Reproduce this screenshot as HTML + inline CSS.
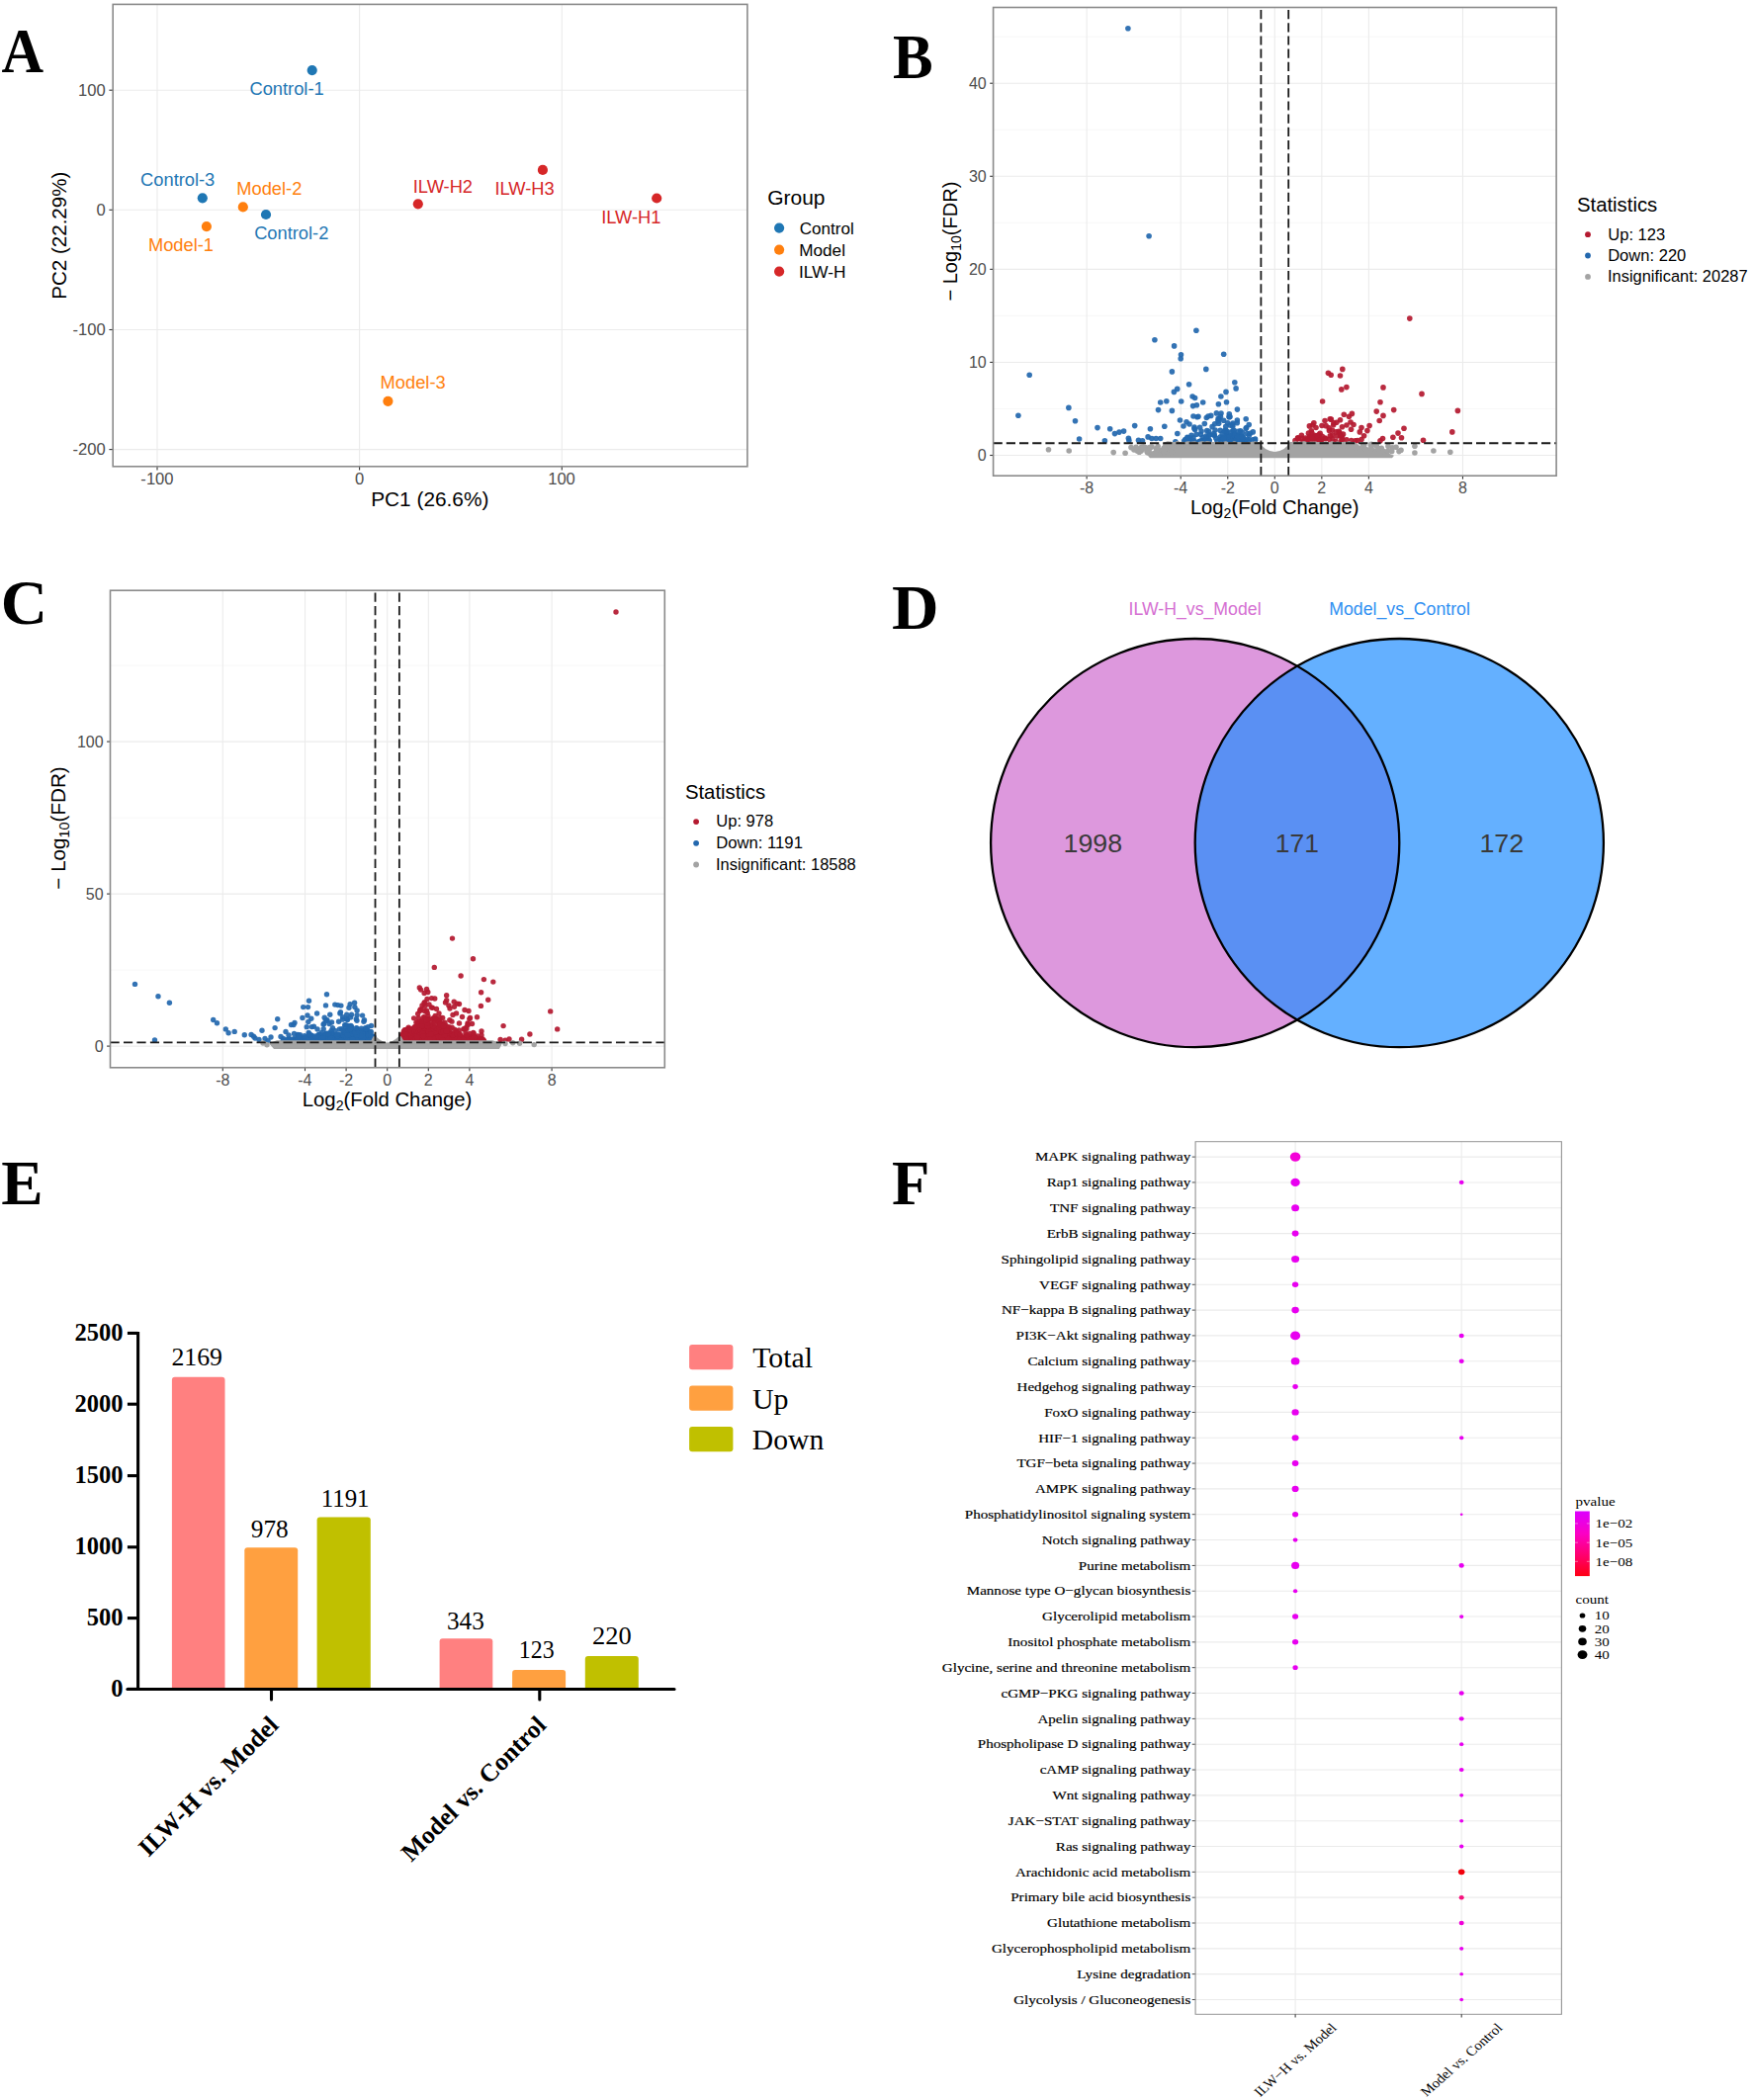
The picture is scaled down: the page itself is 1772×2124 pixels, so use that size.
<!DOCTYPE html>
<html lang="en"><head><meta charset="utf-8"><title>Figure</title>
<style>html,body{margin:0;padding:0;background:#fff}svg{display:block}text{white-space:pre}</style>
</head><body>
<svg width="1772" height="2124" viewBox="0 0 1772 2124">
<defs><linearGradient id="pvg" x1="0" y1="0" x2="0" y2="1"><stop offset="0" stop-color="#dc00ff"/><stop offset="0.35" stop-color="#fb00c4"/><stop offset="0.7" stop-color="#ff0068"/><stop offset="1" stop-color="#ff0014"/></linearGradient></defs>
<rect x="0" y="0" width="1772" height="2124" fill="#ffffff"/>
<g id="panelA">
<rect x="114.2" y="4.4" width="641.7" height="467.4" fill="#fff" stroke="none" stroke-width="1"/>
<line x1="159" y1="4.4" x2="159" y2="471.8" stroke="#ebebeb" stroke-width="1.1"/>
<line x1="363.6" y1="4.4" x2="363.6" y2="471.8" stroke="#ebebeb" stroke-width="1.1"/>
<line x1="568.3" y1="4.4" x2="568.3" y2="471.8" stroke="#ebebeb" stroke-width="1.1"/>
<line x1="114.2" y1="91.2" x2="755.9" y2="91.2" stroke="#ebebeb" stroke-width="1.1"/>
<line x1="114.2" y1="212.3" x2="755.9" y2="212.3" stroke="#ebebeb" stroke-width="1.1"/>
<line x1="114.2" y1="333.5" x2="755.9" y2="333.5" stroke="#ebebeb" stroke-width="1.1"/>
<line x1="114.2" y1="454.6" x2="755.9" y2="454.6" stroke="#ebebeb" stroke-width="1.1"/>
<line x1="159" y1="471.8" x2="159" y2="475.6" stroke="#333" stroke-width="1.1"/>
<text transform="translate(142.36 490.2) scale(1.0000 1)" font-family='"Liberation Sans", Arial, sans-serif' font-size="16.6" fill="#4d4d4d">-100</text>
<line x1="363.6" y1="471.8" x2="363.6" y2="475.6" stroke="#333" stroke-width="1.1"/>
<text transform="translate(358.99 490.2) scale(1.0000 1)" font-family='"Liberation Sans", Arial, sans-serif' font-size="16.6" fill="#4d4d4d">0</text>
<line x1="568.3" y1="471.8" x2="568.3" y2="475.6" stroke="#333" stroke-width="1.1"/>
<text transform="translate(554.15 490.2) scale(1.0000 1)" font-family='"Liberation Sans", Arial, sans-serif' font-size="16.6" fill="#4d4d4d">100</text>
<line x1="110.4" y1="91.2" x2="114.2" y2="91.2" stroke="#333" stroke-width="1.1"/>
<text transform="translate(79.04 97) scale(1.0000 1)" font-family='"Liberation Sans", Arial, sans-serif' font-size="16.6" fill="#4d4d4d">100</text>
<line x1="110.4" y1="212.3" x2="114.2" y2="212.3" stroke="#333" stroke-width="1.1"/>
<text transform="translate(97.47 218.1) scale(1.0000 1)" font-family='"Liberation Sans", Arial, sans-serif' font-size="16.6" fill="#4d4d4d">0</text>
<line x1="110.4" y1="333.5" x2="114.2" y2="333.5" stroke="#333" stroke-width="1.1"/>
<text transform="translate(73.48 339.3) scale(1.0000 1)" font-family='"Liberation Sans", Arial, sans-serif' font-size="16.6" fill="#4d4d4d">-100</text>
<line x1="110.4" y1="454.6" x2="114.2" y2="454.6" stroke="#333" stroke-width="1.1"/>
<text transform="translate(73.48 460.4) scale(1.0000 1)" font-family='"Liberation Sans", Arial, sans-serif' font-size="16.6" fill="#4d4d4d">-200</text>
<rect x="114.2" y="4.4" width="641.7" height="467.4" fill="none" stroke="#8a8a8a" stroke-width="1.6"/>
<text transform="translate(375.13 511.8) scale(1.0068 1)" font-family='"Liberation Sans", Arial, sans-serif' font-size="20.7" fill="#000">PC1 (26.6%)</text>
<text transform="translate(67.1 302.64) rotate(-90) scale(0.9913 1)" font-family='"Liberation Sans", Arial, sans-serif' font-size="20.7" fill="#000">PC2 (22.29%)</text>
<circle cx="315.7" cy="71.1" r="5.1" fill="#1f77b4"/>
<circle cx="204.8" cy="200.3" r="5.1" fill="#1f77b4"/>
<circle cx="245.8" cy="209.4" r="5.1" fill="#ff7f0e"/>
<circle cx="269" cy="217" r="5.1" fill="#1f77b4"/>
<circle cx="208.9" cy="229.1" r="5.1" fill="#ff7f0e"/>
<circle cx="422.8" cy="206.3" r="5.1" fill="#d62728"/>
<circle cx="548.9" cy="171.9" r="5.1" fill="#d62728"/>
<circle cx="664.2" cy="200.5" r="5.1" fill="#d62728"/>
<circle cx="392.4" cy="405.8" r="5.1" fill="#ff7f0e"/>
<text transform="translate(252.45 95.9) scale(1.0000 1)" font-family='"Liberation Sans", Arial, sans-serif' font-size="18.3" fill="#1f77b4">Control-1</text>
<text transform="translate(142.1 188.1) scale(1.0000 1)" font-family='"Liberation Sans", Arial, sans-serif' font-size="18.3" fill="#1f77b4">Control-3</text>
<text transform="translate(239.25 197.2) scale(1.0000 1)" font-family='"Liberation Sans", Arial, sans-serif' font-size="18.3" fill="#ff7f0e">Model-2</text>
<text transform="translate(257.15 241.7) scale(1.0000 1)" font-family='"Liberation Sans", Arial, sans-serif' font-size="18.3" fill="#1f77b4">Control-2</text>
<text transform="translate(149.95 254.4) scale(1.0000 1)" font-family='"Liberation Sans", Arial, sans-serif' font-size="18.3" fill="#ff7f0e">Model-1</text>
<text transform="translate(417.74 194.7) scale(1.0000 1)" font-family='"Liberation Sans", Arial, sans-serif' font-size="18.3" fill="#d62728">ILW-H2</text>
<text transform="translate(500.39 197.2) scale(1.0000 1)" font-family='"Liberation Sans", Arial, sans-serif' font-size="18.3" fill="#d62728">ILW-H3</text>
<text transform="translate(608.14 225.5) scale(1.0000 1)" font-family='"Liberation Sans", Arial, sans-serif' font-size="18.3" fill="#d62728">ILW-H1</text>
<text transform="translate(384.6 393.4) scale(1.0000 1)" font-family='"Liberation Sans", Arial, sans-serif' font-size="18.3" fill="#ff7f0e">Model-3</text>
<text transform="translate(776.25 206.8) scale(1.0080 1)" font-family='"Liberation Sans", Arial, sans-serif' font-size="20.8" fill="#000">Group</text>
<circle cx="788.1" cy="230.6" r="5.1" fill="#1f77b4"/>
<text transform="translate(808.75 236.5) scale(1.0044 1)" font-family='"Liberation Sans", Arial, sans-serif' font-size="17" fill="#000">Control</text>
<circle cx="788.1" cy="252.6" r="5.1" fill="#ff7f0e"/>
<text transform="translate(808.23 258.5) scale(1.0100 1)" font-family='"Liberation Sans", Arial, sans-serif' font-size="17" fill="#000">Model</text>
<circle cx="788.1" cy="274.6" r="5.1" fill="#d62728"/>
<text transform="translate(808.04 280.5) scale(1.0166 1)" font-family='"Liberation Sans", Arial, sans-serif' font-size="17" fill="#000">ILW-H</text>
<text transform="translate(1.6 73.3) scale(0.9367 1)" font-family='"Liberation Serif", "Times New Roman", serif' font-size="63" font-weight="bold" fill="#000">A</text>
</g>
<g id="panelB">
<rect x="1004.6" y="7.5" width="569.5" height="473.7" fill="#fff" stroke="none" stroke-width="1"/>
<line x1="1004.6" y1="413.47" x2="1574.1" y2="413.47" stroke="#f2f2f2" stroke-width="0.6"/>
<line x1="1004.6" y1="319.39" x2="1574.1" y2="319.39" stroke="#f2f2f2" stroke-width="0.6"/>
<line x1="1004.6" y1="225.32" x2="1574.1" y2="225.32" stroke="#f2f2f2" stroke-width="0.6"/>
<line x1="1004.6" y1="131.25" x2="1574.1" y2="131.25" stroke="#f2f2f2" stroke-width="0.6"/>
<line x1="1004.6" y1="37.19" x2="1574.1" y2="37.19" stroke="#f2f2f2" stroke-width="0.6"/>
<line x1="1099.14" y1="7.5" x2="1099.14" y2="481.2" stroke="#ebebeb" stroke-width="1.1"/>
<line x1="1194.22" y1="7.5" x2="1194.22" y2="481.2" stroke="#ebebeb" stroke-width="1.1"/>
<line x1="1241.76" y1="7.5" x2="1241.76" y2="481.2" stroke="#ebebeb" stroke-width="1.1"/>
<line x1="1289.3" y1="7.5" x2="1289.3" y2="481.2" stroke="#ebebeb" stroke-width="1.1"/>
<line x1="1336.84" y1="7.5" x2="1336.84" y2="481.2" stroke="#ebebeb" stroke-width="1.1"/>
<line x1="1384.38" y1="7.5" x2="1384.38" y2="481.2" stroke="#ebebeb" stroke-width="1.1"/>
<line x1="1479.46" y1="7.5" x2="1479.46" y2="481.2" stroke="#ebebeb" stroke-width="1.1"/>
<line x1="1004.6" y1="460.5" x2="1574.1" y2="460.5" stroke="#ebebeb" stroke-width="1.1"/>
<line x1="1004.6" y1="366.43" x2="1574.1" y2="366.43" stroke="#ebebeb" stroke-width="1.1"/>
<line x1="1004.6" y1="272.36" x2="1574.1" y2="272.36" stroke="#ebebeb" stroke-width="1.1"/>
<line x1="1004.6" y1="178.29" x2="1574.1" y2="178.29" stroke="#ebebeb" stroke-width="1.1"/>
<line x1="1004.6" y1="84.22" x2="1574.1" y2="84.22" stroke="#ebebeb" stroke-width="1.1"/>
<g fill="#2368ae" fill-opacity="0.93"><circle cx="1041.2" cy="379.2" r="2.8"/><circle cx="1029.9" cy="420.2" r="2.8"/><circle cx="1080.9" cy="412.4" r="2.8"/><circle cx="1087.5" cy="425.8" r="2.8"/><circle cx="1091.6" cy="444" r="2.8"/><circle cx="1110" cy="432.6" r="2.8"/><circle cx="1122.7" cy="433.8" r="2.8"/><circle cx="1127.5" cy="438.6" r="2.8"/><circle cx="1132" cy="437.1" r="2.8"/><circle cx="1136.6" cy="436.1" r="2.8"/><circle cx="1117.4" cy="445.7" r="2.8"/><circle cx="1141.4" cy="443.2" r="2.8"/><circle cx="1141.9" cy="445.5" r="2.8"/><circle cx="1147.7" cy="430.6" r="2.8"/><circle cx="1151.5" cy="445.2" r="2.8"/><circle cx="1155.5" cy="445.7" r="2.8"/><circle cx="1161.1" cy="441.9" r="2.8"/><circle cx="1163.4" cy="433.8" r="2.8"/><circle cx="1164.9" cy="443.5" r="2.8"/><circle cx="1169.2" cy="443.5" r="2.8"/><circle cx="1173.7" cy="443.5" r="2.8"/><circle cx="1177.8" cy="431.3" r="2.8"/><circle cx="1167.9" cy="343.8" r="2.8"/><circle cx="1187.6" cy="349.9" r="2.8"/><circle cx="1209.9" cy="334.2" r="2.8"/><circle cx="1194.5" cy="358.7" r="2.8"/><circle cx="1194.2" cy="362.8" r="2.8"/><circle cx="1237.7" cy="358.2" r="2.8"/><circle cx="1185.4" cy="375.9" r="2.8"/><circle cx="1219.8" cy="373.4" r="2.8"/><circle cx="1202.6" cy="388.8" r="2.8"/><circle cx="1190.7" cy="393.4" r="2.8"/><circle cx="1187.4" cy="396.4" r="2.8"/><circle cx="1248.8" cy="386.8" r="2.8"/><circle cx="1250.1" cy="392.9" r="2.8"/><circle cx="1240" cy="396.4" r="2.8"/><circle cx="1234.9" cy="401" r="2.8"/><circle cx="1206.1" cy="401" r="2.8"/><circle cx="1208.6" cy="402.5" r="2.8"/><circle cx="1173.7" cy="407" r="2.8"/><circle cx="1179.8" cy="405.8" r="2.8"/><circle cx="1194.7" cy="406" r="2.8"/><circle cx="1216.7" cy="407" r="2.8"/><circle cx="1240.5" cy="406.8" r="2.8"/><circle cx="1232.4" cy="408.8" r="2.8"/><circle cx="1206.6" cy="410.6" r="2.8"/><circle cx="1210.4" cy="409.8" r="2.8"/><circle cx="1171.5" cy="414.6" r="2.8"/><circle cx="1185.4" cy="415.4" r="2.8"/><circle cx="1251.4" cy="414.1" r="2.8"/><circle cx="1230.4" cy="417.9" r="2.8"/><circle cx="1234.4" cy="421.2" r="2.8"/><circle cx="1224.8" cy="420.4" r="2.8"/><circle cx="1220.3" cy="422.5" r="2.8"/><circle cx="1210.9" cy="421.7" r="2.8"/><circle cx="1193.5" cy="425" r="2.8"/><circle cx="1200" cy="426.8" r="2.8"/><circle cx="1260.2" cy="423.7" r="2.8"/><circle cx="1269.6" cy="444" r="2.8"/><circle cx="1140.9" cy="28.8" r="2.8"/><circle cx="1162.1" cy="238.7" r="2.8"/><circle cx="1207" cy="421" r="2.8"/><circle cx="1212" cy="421.3" r="2.8"/><circle cx="1222" cy="421" r="2.8"/><circle cx="1244" cy="421.5" r="2.8"/><circle cx="1233" cy="423.5" r="2.8"/><circle cx="1247" cy="428" r="2.8"/><circle cx="1203" cy="429" r="2.8"/><circle cx="1208" cy="432" r="2.8"/><circle cx="1197" cy="431" r="2.8"/><circle cx="1245.88" cy="440.26" r="2.8"/><circle cx="1239.52" cy="434.96" r="2.8"/><circle cx="1242.38" cy="442.29" r="2.8"/><circle cx="1239.65" cy="444.83" r="2.8"/><circle cx="1243.29" cy="418.81" r="2.8"/><circle cx="1234.18" cy="444.59" r="2.8"/><circle cx="1243.29" cy="421.79" r="2.8"/><circle cx="1234.18" cy="435.32" r="2.8"/><circle cx="1256.16" cy="445.56" r="2.8"/><circle cx="1266.94" cy="444.71" r="2.8"/><circle cx="1239.77" cy="431.38" r="2.8"/><circle cx="1216.39" cy="442.64" r="2.8"/><circle cx="1263.36" cy="440.24" r="2.8"/><circle cx="1249.85" cy="442.31" r="2.8"/><circle cx="1220.44" cy="442.52" r="2.8"/><circle cx="1250.94" cy="440.46" r="2.8"/><circle cx="1229.04" cy="434.96" r="2.8"/><circle cx="1246.98" cy="435.76" r="2.8"/><circle cx="1238.97" cy="444.52" r="2.8"/><circle cx="1238.11" cy="445.92" r="2.8"/><circle cx="1198.74" cy="444.49" r="2.8"/><circle cx="1238.22" cy="442.82" r="2.8"/><circle cx="1252.61" cy="442.05" r="2.8"/><circle cx="1246.75" cy="431.18" r="2.8"/><circle cx="1204.47" cy="447.24" r="2.8"/><circle cx="1219.25" cy="444.67" r="2.8"/><circle cx="1188.88" cy="446.84" r="2.8"/><circle cx="1238.62" cy="446.68" r="2.8"/><circle cx="1201.82" cy="442.71" r="2.8"/><circle cx="1246.68" cy="429.83" r="2.8"/><circle cx="1256.16" cy="440.97" r="2.8"/><circle cx="1267.26" cy="436.9" r="2.8"/><circle cx="1216.42" cy="445.44" r="2.8"/><circle cx="1257.09" cy="445.96" r="2.8"/><circle cx="1223.05" cy="440.27" r="2.8"/><circle cx="1251.35" cy="424.96" r="2.8"/><circle cx="1247.09" cy="441.54" r="2.8"/><circle cx="1214.44" cy="439.19" r="2.8"/><circle cx="1223.08" cy="439.91" r="2.8"/><circle cx="1210.79" cy="447.41" r="2.8"/><circle cx="1248.58" cy="446.82" r="2.8"/><circle cx="1229.83" cy="443.2" r="2.8"/><circle cx="1218.29" cy="445.14" r="2.8"/><circle cx="1232.68" cy="428.13" r="2.8"/><circle cx="1237.68" cy="425.23" r="2.8"/><circle cx="1213.62" cy="432.25" r="2.8"/><circle cx="1248.64" cy="447.16" r="2.8"/><circle cx="1243.85" cy="446.68" r="2.8"/><circle cx="1255.77" cy="441.27" r="2.8"/><circle cx="1263.74" cy="444.93" r="2.8"/><circle cx="1250.26" cy="443.27" r="2.8"/><circle cx="1222.61" cy="445.3" r="2.8"/><circle cx="1242.03" cy="440.97" r="2.8"/><circle cx="1252.07" cy="441.04" r="2.8"/><circle cx="1240.33" cy="437.55" r="2.8"/><circle cx="1216.38" cy="446.96" r="2.8"/><circle cx="1261.31" cy="438.52" r="2.8"/><circle cx="1214.37" cy="446.27" r="2.8"/><circle cx="1223.2" cy="445.49" r="2.8"/><circle cx="1201.84" cy="446" r="2.8"/><circle cx="1251.97" cy="441.73" r="2.8"/><circle cx="1231.09" cy="446.28" r="2.8"/><circle cx="1207.4" cy="445.78" r="2.8"/><circle cx="1220.66" cy="446.06" r="2.8"/><circle cx="1228.19" cy="440" r="2.8"/><circle cx="1197.71" cy="446.07" r="2.8"/><circle cx="1241.71" cy="427.87" r="2.8"/><circle cx="1200.86" cy="442.21" r="2.8"/><circle cx="1202.96" cy="444.19" r="2.8"/><circle cx="1251.82" cy="446.92" r="2.8"/><circle cx="1264.34" cy="438.3" r="2.8"/><circle cx="1218.32" cy="428.51" r="2.8"/><circle cx="1205.46" cy="447.16" r="2.8"/><circle cx="1251.24" cy="427.79" r="2.8"/><circle cx="1190.82" cy="438.45" r="2.8"/><circle cx="1259.39" cy="445.33" r="2.8"/><circle cx="1200.17" cy="444.89" r="2.8"/><circle cx="1246.43" cy="445.62" r="2.8"/><circle cx="1252.22" cy="446.14" r="2.8"/><circle cx="1235.02" cy="418" r="2.8"/><circle cx="1220.74" cy="435.67" r="2.8"/><circle cx="1253.24" cy="446.02" r="2.8"/><circle cx="1234.63" cy="446.87" r="2.8"/><circle cx="1235.46" cy="444.8" r="2.8"/><circle cx="1240.34" cy="446.93" r="2.8"/><circle cx="1236.18" cy="438.91" r="2.8"/><circle cx="1260.7" cy="432.59" r="2.8"/><circle cx="1247" cy="440.69" r="2.8"/><circle cx="1228.64" cy="428.79" r="2.8"/><circle cx="1215.1" cy="435.94" r="2.8"/><circle cx="1257.01" cy="442.2" r="2.8"/><circle cx="1239.74" cy="443.29" r="2.8"/><circle cx="1241.11" cy="439.37" r="2.8"/><circle cx="1245.92" cy="440.57" r="2.8"/><circle cx="1254.64" cy="435.76" r="2.8"/><circle cx="1263.2" cy="447.28" r="2.8"/><circle cx="1226.07" cy="431.67" r="2.8"/><circle cx="1246.82" cy="444.69" r="2.8"/><circle cx="1227.96" cy="440.36" r="2.8"/><circle cx="1222.51" cy="436.24" r="2.8"/><circle cx="1250.47" cy="444.64" r="2.8"/><circle cx="1247.78" cy="442.34" r="2.8"/><circle cx="1245.11" cy="441.01" r="2.8"/><circle cx="1263.23" cy="429.55" r="2.8"/><circle cx="1240.96" cy="436.39" r="2.8"/><circle cx="1210.06" cy="439.21" r="2.8"/><circle cx="1245" cy="437.15" r="2.8"/><circle cx="1205.04" cy="440.33" r="2.8"/><circle cx="1248.39" cy="439.7" r="2.8"/><circle cx="1244.12" cy="430.01" r="2.8"/><circle cx="1261.19" cy="444.34" r="2.8"/><circle cx="1232.08" cy="423.63" r="2.8"/><circle cx="1236.83" cy="444.66" r="2.8"/><circle cx="1252.7" cy="440.05" r="2.8"/><circle cx="1248.6" cy="446.34" r="2.8"/><circle cx="1256.84" cy="443.91" r="2.8"/><circle cx="1213.82" cy="446.37" r="2.8"/><circle cx="1241.34" cy="442.41" r="2.8"/><circle cx="1227.59" cy="438.67" r="2.8"/><circle cx="1260.11" cy="433.4" r="2.8"/><circle cx="1238.22" cy="435.99" r="2.8"/><circle cx="1239.04" cy="444.28" r="2.8"/><circle cx="1256.38" cy="437.57" r="2.8"/><circle cx="1248.16" cy="435.42" r="2.8"/><circle cx="1237.85" cy="442.42" r="2.8"/><circle cx="1234.13" cy="441.94" r="2.8"/><circle cx="1218.62" cy="446.77" r="2.8"/><circle cx="1205.81" cy="447.34" r="2.8"/><circle cx="1249.3" cy="439.21" r="2.8"/><circle cx="1251.49" cy="441.59" r="2.8"/><circle cx="1219.9" cy="441.1" r="2.8"/><circle cx="1261.69" cy="446.62" r="2.8"/><circle cx="1236.3" cy="442.92" r="2.8"/><circle cx="1257.23" cy="442.09" r="2.8"/><circle cx="1208.64" cy="434.57" r="2.8"/><circle cx="1237.06" cy="442.2" r="2.8"/><circle cx="1269.49" cy="445.33" r="2.8"/><circle cx="1231.94" cy="425.89" r="2.8"/><circle cx="1213.4" cy="446.56" r="2.8"/><circle cx="1206.98" cy="442.83" r="2.8"/><circle cx="1203.07" cy="442.77" r="2.8"/><circle cx="1250.62" cy="444.99" r="2.8"/><circle cx="1251.36" cy="443.16" r="2.8"/><circle cx="1252.37" cy="436.35" r="2.8"/><circle cx="1207.98" cy="433.6" r="2.8"/><circle cx="1243.2" cy="421.56" r="2.8"/><circle cx="1248.79" cy="446.16" r="2.8"/><circle cx="1237.38" cy="444.29" r="2.8"/><circle cx="1245.19" cy="446.33" r="2.8"/><circle cx="1256.03" cy="441.71" r="2.8"/></g>
<g fill="#b41a30" fill-opacity="0.93"><circle cx="1425.8" cy="322.1" r="2.8"/><circle cx="1357.8" cy="373.4" r="2.8"/><circle cx="1343.4" cy="377.2" r="2.8"/><circle cx="1346.2" cy="379.2" r="2.8"/><circle cx="1355.5" cy="380" r="2.8"/><circle cx="1361.9" cy="391.6" r="2.8"/><circle cx="1356.8" cy="393.9" r="2.8"/><circle cx="1399" cy="391.9" r="2.8"/><circle cx="1438" cy="398.4" r="2.8"/><circle cx="1337.6" cy="406" r="2.8"/><circle cx="1396" cy="406.8" r="2.8"/><circle cx="1409.7" cy="414.6" r="2.8"/><circle cx="1392.2" cy="416.1" r="2.8"/><circle cx="1399" cy="420.4" r="2.8"/><circle cx="1395.2" cy="425.5" r="2.8"/><circle cx="1474.4" cy="415.4" r="2.8"/><circle cx="1468.8" cy="436.9" r="2.8"/><circle cx="1420" cy="433.3" r="2.8"/><circle cx="1414" cy="438.1" r="2.8"/><circle cx="1408.9" cy="442.2" r="2.8"/><circle cx="1417.5" cy="442.7" r="2.8"/><circle cx="1439.5" cy="445.2" r="2.8"/><circle cx="1398.5" cy="443.5" r="2.8"/><circle cx="1396" cy="445.7" r="2.8"/><circle cx="1385.1" cy="430.6" r="2.8"/><circle cx="1382.9" cy="435.6" r="2.8"/><circle cx="1377" cy="432.6" r="2.8"/><circle cx="1375.3" cy="436.9" r="2.8"/><circle cx="1379.6" cy="440.7" r="2.8"/><circle cx="1377" cy="444.5" r="2.8"/><circle cx="1367.4" cy="418.4" r="2.8"/><circle cx="1359.3" cy="419.2" r="2.8"/><circle cx="1364.4" cy="421.2" r="2.8"/><circle cx="1345.2" cy="423.7" r="2.8"/><circle cx="1355.5" cy="424.7" r="2.8"/><circle cx="1351.8" cy="427.3" r="2.8"/><circle cx="1348.7" cy="429.8" r="2.8"/><circle cx="1337" cy="430.5" r="2.8"/><circle cx="1331" cy="432.5" r="2.8"/><circle cx="1362" cy="430" r="2.8"/><circle cx="1366" cy="427" r="2.8"/><circle cx="1369" cy="429.5" r="2.8"/><circle cx="1340" cy="425.5" r="2.8"/><circle cx="1327.5" cy="430" r="2.8"/><circle cx="1325.29" cy="445.38" r="2.8"/><circle cx="1330.27" cy="443.53" r="2.8"/><circle cx="1348.92" cy="427.87" r="2.8"/><circle cx="1323.5" cy="438.17" r="2.8"/><circle cx="1329.41" cy="440.34" r="2.8"/><circle cx="1357.44" cy="431.81" r="2.8"/><circle cx="1357.42" cy="441.88" r="2.8"/><circle cx="1347.85" cy="443.96" r="2.8"/><circle cx="1335.35" cy="445.27" r="2.8"/><circle cx="1324.68" cy="442.95" r="2.8"/><circle cx="1331.47" cy="441.92" r="2.8"/><circle cx="1344.69" cy="444.2" r="2.8"/><circle cx="1355.67" cy="441.09" r="2.8"/><circle cx="1366.53" cy="434.26" r="2.8"/><circle cx="1332.78" cy="446.88" r="2.8"/><circle cx="1318.81" cy="447.31" r="2.8"/><circle cx="1358.47" cy="439.13" r="2.8"/><circle cx="1347.4" cy="435.11" r="2.8"/><circle cx="1321.04" cy="444.59" r="2.8"/><circle cx="1329.33" cy="447.06" r="2.8"/><circle cx="1325.89" cy="447.05" r="2.8"/><circle cx="1326.32" cy="435.87" r="2.8"/><circle cx="1356.83" cy="445.08" r="2.8"/><circle cx="1334.26" cy="445.77" r="2.8"/><circle cx="1312.62" cy="442.76" r="2.8"/><circle cx="1332.56" cy="440.61" r="2.8"/><circle cx="1332.68" cy="441.11" r="2.8"/><circle cx="1340.65" cy="443.69" r="2.8"/><circle cx="1340.15" cy="442.97" r="2.8"/><circle cx="1319.07" cy="445.65" r="2.8"/><circle cx="1310.02" cy="445.67" r="2.8"/><circle cx="1346.37" cy="424.14" r="2.8"/><circle cx="1320.72" cy="446.07" r="2.8"/><circle cx="1356.85" cy="447.39" r="2.8"/><circle cx="1325.05" cy="444.29" r="2.8"/><circle cx="1354.8" cy="437.59" r="2.8"/><circle cx="1357.96" cy="444.95" r="2.8"/><circle cx="1328.64" cy="446.27" r="2.8"/><circle cx="1334.07" cy="441.48" r="2.8"/><circle cx="1329.39" cy="443.91" r="2.8"/><circle cx="1370.72" cy="445.8" r="2.8"/><circle cx="1327.47" cy="442.16" r="2.8"/><circle cx="1341.09" cy="430.63" r="2.8"/><circle cx="1329.74" cy="445.42" r="2.8"/><circle cx="1323.18" cy="446.97" r="2.8"/><circle cx="1347.58" cy="440.01" r="2.8"/><circle cx="1344.2" cy="432.88" r="2.8"/><circle cx="1333.85" cy="439.88" r="2.8"/><circle cx="1316.38" cy="440.3" r="2.8"/><circle cx="1361.94" cy="444.88" r="2.8"/><circle cx="1352.37" cy="441.09" r="2.8"/><circle cx="1324.51" cy="441.19" r="2.8"/><circle cx="1327.5" cy="441.34" r="2.8"/><circle cx="1335.13" cy="438.42" r="2.8"/><circle cx="1328.2" cy="447.15" r="2.8"/><circle cx="1373" cy="445.56" r="2.8"/><circle cx="1344.43" cy="435.45" r="2.8"/><circle cx="1337.07" cy="444.05" r="2.8"/><circle cx="1366.71" cy="445.57" r="2.8"/><circle cx="1351.23" cy="436.89" r="2.8"/><circle cx="1345.32" cy="440.77" r="2.8"/><circle cx="1312.67" cy="443.62" r="2.8"/><circle cx="1313.29" cy="443.39" r="2.8"/><circle cx="1331.93" cy="440.73" r="2.8"/><circle cx="1324.39" cy="430.92" r="2.8"/><circle cx="1328.85" cy="427.85" r="2.8"/><circle cx="1336.04" cy="446.88" r="2.8"/><circle cx="1355.75" cy="439.45" r="2.8"/><circle cx="1351.03" cy="446.25" r="2.8"/><circle cx="1354.13" cy="436.31" r="2.8"/><circle cx="1317.26" cy="447.32" r="2.8"/><circle cx="1334.1" cy="445.61" r="2.8"/><circle cx="1327.04" cy="443.7" r="2.8"/><circle cx="1316.58" cy="443.31" r="2.8"/><circle cx="1320.61" cy="442.95" r="2.8"/><circle cx="1322.44" cy="446.01" r="2.8"/><circle cx="1337.26" cy="441.35" r="2.8"/><circle cx="1326.78" cy="437.85" r="2.8"/></g>
<path d="M1163 463.3 L1160.5 460.3 L1163 457.3 L1176 452.07 L1186 447.07 L1273.89 447.07 Q1278.6 456.27 1289.3 457.11 Q1300 456.27 1304.71 447.07 L1366 447.07 L1374 451.07 L1392 453.57 L1410 460.8 L1408 463.3 Z" fill="#a3a3a3"/>
<g fill="#a3a3a3"><circle cx="1221.77" cy="448.98" r="2.8"/><circle cx="1183.59" cy="449.21" r="2.8"/><circle cx="1223.18" cy="450.56" r="2.8"/><circle cx="1265.23" cy="450" r="2.8"/><circle cx="1237.49" cy="449.5" r="2.8"/><circle cx="1319.7" cy="449.25" r="2.8"/><circle cx="1260.58" cy="450.22" r="2.8"/><circle cx="1360.42" cy="449.44" r="2.8"/><circle cx="1252.64" cy="450.07" r="2.8"/><circle cx="1204.96" cy="450.16" r="2.8"/><circle cx="1363.15" cy="449.45" r="2.8"/><circle cx="1269.31" cy="449.12" r="2.8"/><circle cx="1362.6" cy="450.01" r="2.8"/><circle cx="1218.57" cy="449.52" r="2.8"/><circle cx="1340.83" cy="449.82" r="2.8"/><circle cx="1271.12" cy="450.57" r="2.8"/><circle cx="1198.01" cy="450.87" r="2.8"/><circle cx="1266.31" cy="449.57" r="2.8"/><circle cx="1325.92" cy="449.41" r="2.8"/><circle cx="1205.82" cy="449.41" r="2.8"/><circle cx="1197.13" cy="449.82" r="2.8"/><circle cx="1222.76" cy="450.02" r="2.8"/><circle cx="1204.27" cy="450.5" r="2.8"/><circle cx="1353.54" cy="449.54" r="2.8"/><circle cx="1245.35" cy="450.13" r="2.8"/><circle cx="1318.38" cy="448.99" r="2.8"/><circle cx="1332.71" cy="450.54" r="2.8"/><circle cx="1261.33" cy="450.6" r="2.8"/><circle cx="1213.48" cy="449.47" r="2.8"/><circle cx="1330.41" cy="450.37" r="2.8"/><circle cx="1218.48" cy="449.71" r="2.8"/><circle cx="1325.83" cy="449.83" r="2.8"/><circle cx="1220.76" cy="450.84" r="2.8"/><circle cx="1263.32" cy="449.52" r="2.8"/><circle cx="1235.17" cy="449.44" r="2.8"/><circle cx="1329.09" cy="449.73" r="2.8"/><circle cx="1208.58" cy="449.87" r="2.8"/><circle cx="1254.3" cy="449.79" r="2.8"/><circle cx="1223.58" cy="450.49" r="2.8"/><circle cx="1216.42" cy="448.95" r="2.8"/><circle cx="1311.02" cy="450.43" r="2.8"/><circle cx="1223.36" cy="449.24" r="2.8"/><circle cx="1352.73" cy="449.4" r="2.8"/><circle cx="1228.23" cy="450.43" r="2.8"/><circle cx="1266.75" cy="449.67" r="2.8"/><circle cx="1216.22" cy="449.74" r="2.8"/><circle cx="1359.73" cy="450.55" r="2.8"/><circle cx="1205.05" cy="449.74" r="2.8"/><circle cx="1348.02" cy="449.27" r="2.8"/><circle cx="1364.57" cy="450.65" r="2.8"/><circle cx="1308.36" cy="449.66" r="2.8"/><circle cx="1195.49" cy="449.49" r="2.8"/><circle cx="1318.79" cy="449.76" r="2.8"/><circle cx="1330.55" cy="449.32" r="2.8"/><circle cx="1334.51" cy="450.68" r="2.8"/><circle cx="1315.22" cy="449.3" r="2.8"/><circle cx="1220.35" cy="449.01" r="2.8"/><circle cx="1187.75" cy="450.42" r="2.8"/><circle cx="1271.39" cy="450.47" r="2.8"/><circle cx="1231.72" cy="449.6" r="2.8"/><circle cx="1347.99" cy="450.97" r="2.8"/><circle cx="1197.33" cy="450.51" r="2.8"/><circle cx="1178.86" cy="450.17" r="2.8"/><circle cx="1231.19" cy="449.61" r="2.8"/><circle cx="1362.16" cy="450.43" r="2.8"/><circle cx="1188.36" cy="450.3" r="2.8"/><circle cx="1180.47" cy="450.73" r="2.8"/><circle cx="1181.13" cy="449.05" r="2.8"/><circle cx="1250.53" cy="450.59" r="2.8"/><circle cx="1231.95" cy="449.71" r="2.8"/><circle cx="1200.8" cy="449.93" r="2.8"/><circle cx="1359.45" cy="449.43" r="2.8"/><circle cx="1328.26" cy="449.22" r="2.8"/><circle cx="1346.32" cy="449.95" r="2.8"/><circle cx="1201.9" cy="450.51" r="2.8"/><circle cx="1346.64" cy="449.18" r="2.8"/><circle cx="1200.31" cy="449.4" r="2.8"/><circle cx="1358.52" cy="450.68" r="2.8"/><circle cx="1239.68" cy="448.95" r="2.8"/><circle cx="1223.89" cy="450.14" r="2.8"/><circle cx="1364.5" cy="449.17" r="2.8"/><circle cx="1237.81" cy="450.65" r="2.8"/><circle cx="1208.24" cy="449.14" r="2.8"/><circle cx="1210.68" cy="450.49" r="2.8"/><circle cx="1202.21" cy="449.06" r="2.8"/><circle cx="1323.7" cy="450.46" r="2.8"/><circle cx="1260.29" cy="450.8" r="2.8"/><circle cx="1206.67" cy="449.8" r="2.8"/><circle cx="1248.16" cy="450.02" r="2.8"/><circle cx="1214.72" cy="449.18" r="2.8"/><circle cx="1364.84" cy="449.51" r="2.8"/><circle cx="1352.09" cy="449.51" r="2.8"/><circle cx="1247.65" cy="450.05" r="2.8"/><circle cx="1190.93" cy="448.92" r="2.8"/><circle cx="1248.47" cy="449.04" r="2.8"/><circle cx="1232.46" cy="450.33" r="2.8"/><circle cx="1322.33" cy="449.93" r="2.8"/><circle cx="1219.95" cy="450.63" r="2.8"/><circle cx="1217.46" cy="450.46" r="2.8"/><circle cx="1207.11" cy="450.83" r="2.8"/><circle cx="1324.94" cy="449.92" r="2.8"/><circle cx="1260.49" cy="450.07" r="2.8"/><circle cx="1310.21" cy="449.06" r="2.8"/><circle cx="1257.26" cy="450.45" r="2.8"/><circle cx="1261.29" cy="450.91" r="2.8"/><circle cx="1237.08" cy="450.74" r="2.8"/><circle cx="1258.22" cy="450.02" r="2.8"/><circle cx="1340.64" cy="449.31" r="2.8"/><circle cx="1344.02" cy="450.08" r="2.8"/><circle cx="1247.62" cy="449.57" r="2.8"/><circle cx="1185.34" cy="458.13" r="2.8"/><circle cx="1169.64" cy="453.92" r="2.8"/><circle cx="1185.06" cy="451.61" r="2.8"/><circle cx="1151.76" cy="454.91" r="2.8"/><circle cx="1171.13" cy="451.55" r="2.8"/><circle cx="1156.75" cy="452.1" r="2.8"/><circle cx="1158.99" cy="452.78" r="2.8"/><circle cx="1154.47" cy="452.41" r="2.8"/><circle cx="1163.37" cy="452.4" r="2.8"/><circle cx="1177.84" cy="454.32" r="2.8"/><circle cx="1154.21" cy="456.06" r="2.8"/><circle cx="1178.37" cy="454.02" r="2.8"/><circle cx="1150.22" cy="456.05" r="2.8"/><circle cx="1177.14" cy="457.73" r="2.8"/><circle cx="1175.67" cy="455.68" r="2.8"/><circle cx="1162.35" cy="453.21" r="2.8"/><circle cx="1152.34" cy="457.24" r="2.8"/><circle cx="1170.17" cy="453.52" r="2.8"/><circle cx="1154.49" cy="453.52" r="2.8"/><circle cx="1177.28" cy="453.01" r="2.8"/><circle cx="1151.88" cy="454.16" r="2.8"/><circle cx="1162.09" cy="456.38" r="2.8"/><circle cx="1170.02" cy="454.81" r="2.8"/><circle cx="1185.14" cy="457.41" r="2.8"/><circle cx="1154.61" cy="453.24" r="2.8"/><circle cx="1165.1" cy="452" r="2.8"/><circle cx="1177.29" cy="456.88" r="2.8"/><circle cx="1160.53" cy="457.84" r="2.8"/><circle cx="1392.31" cy="450.7" r="2.8"/><circle cx="1395.35" cy="453.96" r="2.8"/><circle cx="1399.57" cy="456.57" r="2.8"/><circle cx="1408.2" cy="452.76" r="2.8"/><circle cx="1387" cy="449.34" r="2.8"/><circle cx="1386.37" cy="450.26" r="2.8"/><circle cx="1373.29" cy="452.82" r="2.8"/><circle cx="1368.96" cy="449.71" r="2.8"/><circle cx="1397.23" cy="453.34" r="2.8"/><circle cx="1386.88" cy="454.1" r="2.8"/><circle cx="1378.48" cy="450.24" r="2.8"/><circle cx="1390.6" cy="449.89" r="2.8"/><circle cx="1398.32" cy="456.15" r="2.8"/><circle cx="1403.7" cy="456.32" r="2.8"/><circle cx="1371.21" cy="450.97" r="2.8"/><circle cx="1407.73" cy="456.41" r="2.8"/><circle cx="1394.13" cy="453.74" r="2.8"/><circle cx="1379.7" cy="450.58" r="2.8"/><circle cx="1370.94" cy="452.95" r="2.8"/><circle cx="1380.72" cy="454.49" r="2.8"/><circle cx="1060.5" cy="454.8" r="2.8"/><circle cx="1081.2" cy="456" r="2.8"/><circle cx="1126.2" cy="457.6" r="2.8"/><circle cx="1138.1" cy="458.2" r="2.8"/><circle cx="1144" cy="452.6" r="2.8"/><circle cx="1147" cy="455" r="2.8"/><circle cx="1152" cy="456.8" r="2.8"/><circle cx="1156" cy="453.6" r="2.8"/><circle cx="1160" cy="456.2" r="2.8"/><circle cx="1163" cy="452.8" r="2.8"/><circle cx="1149" cy="452.2" r="2.8"/><circle cx="1430.9" cy="451.3" r="2.8"/><circle cx="1430.9" cy="458" r="2.8"/><circle cx="1449.9" cy="456" r="2.8"/><circle cx="1466.8" cy="457.3" r="2.8"/><circle cx="1415" cy="456.6" r="2.8"/><circle cx="1412" cy="452.2" r="2.8"/><circle cx="1404" cy="451.2" r="2.8"/><circle cx="1417" cy="455.2" r="2.8"/></g>
<line x1="1275.39" y1="481.2" x2="1275.39" y2="7.5" stroke="#1a1a1a" stroke-width="1.8" stroke-dasharray="9.2 4"/>
<line x1="1303.21" y1="481.2" x2="1303.21" y2="7.5" stroke="#1a1a1a" stroke-width="1.8" stroke-dasharray="9.2 4"/>
<line x1="1004.6" y1="448.27" x2="1574.1" y2="448.27" stroke="#1a1a1a" stroke-width="1.8" stroke-dasharray="9.2 4"/>
<line x1="1099.14" y1="481.2" x2="1099.14" y2="484.6" stroke="#333" stroke-width="1.1"/>
<text transform="translate(1092.02 499.1) scale(1.0000 1)" font-family='"Liberation Sans", Arial, sans-serif' font-size="16" fill="#4d4d4d">-8</text>
<line x1="1194.22" y1="481.2" x2="1194.22" y2="484.6" stroke="#333" stroke-width="1.1"/>
<text transform="translate(1186.98 499.1) scale(1.0000 1)" font-family='"Liberation Sans", Arial, sans-serif' font-size="16" fill="#4d4d4d">-4</text>
<line x1="1241.76" y1="481.2" x2="1241.76" y2="484.6" stroke="#333" stroke-width="1.1"/>
<text transform="translate(1234.68 499.1) scale(1.0000 1)" font-family='"Liberation Sans", Arial, sans-serif' font-size="16" fill="#4d4d4d">-2</text>
<line x1="1289.3" y1="481.2" x2="1289.3" y2="484.6" stroke="#333" stroke-width="1.1"/>
<text transform="translate(1284.86 499.1) scale(1.0000 1)" font-family='"Liberation Sans", Arial, sans-serif' font-size="16" fill="#4d4d4d">0</text>
<line x1="1336.84" y1="481.2" x2="1336.84" y2="484.6" stroke="#333" stroke-width="1.1"/>
<text transform="translate(1332.36 499.1) scale(1.0000 1)" font-family='"Liberation Sans", Arial, sans-serif' font-size="16" fill="#4d4d4d">2</text>
<line x1="1384.38" y1="481.2" x2="1384.38" y2="484.6" stroke="#333" stroke-width="1.1"/>
<text transform="translate(1379.98 499.1) scale(1.0000 1)" font-family='"Liberation Sans", Arial, sans-serif' font-size="16" fill="#4d4d4d">4</text>
<line x1="1479.46" y1="481.2" x2="1479.46" y2="484.6" stroke="#333" stroke-width="1.1"/>
<text transform="translate(1475.02 499.1) scale(1.0000 1)" font-family='"Liberation Sans", Arial, sans-serif' font-size="16" fill="#4d4d4d">8</text>
<line x1="1001.2" y1="460.5" x2="1004.6" y2="460.5" stroke="#333" stroke-width="1.1"/>
<text transform="translate(988.78 466.1) scale(1.0000 1)" font-family='"Liberation Sans", Arial, sans-serif' font-size="16" fill="#4d4d4d">0</text>
<line x1="1001.2" y1="366.43" x2="1004.6" y2="366.43" stroke="#333" stroke-width="1.1"/>
<text transform="translate(979.9 372.03) scale(1.0000 1)" font-family='"Liberation Sans", Arial, sans-serif' font-size="16" fill="#4d4d4d">10</text>
<line x1="1001.2" y1="272.36" x2="1004.6" y2="272.36" stroke="#333" stroke-width="1.1"/>
<text transform="translate(979.9 277.96) scale(1.0000 1)" font-family='"Liberation Sans", Arial, sans-serif' font-size="16" fill="#4d4d4d">20</text>
<line x1="1001.2" y1="178.29" x2="1004.6" y2="178.29" stroke="#333" stroke-width="1.1"/>
<text transform="translate(979.9 183.89) scale(1.0000 1)" font-family='"Liberation Sans", Arial, sans-serif' font-size="16" fill="#4d4d4d">30</text>
<line x1="1001.2" y1="84.22" x2="1004.6" y2="84.22" stroke="#333" stroke-width="1.1"/>
<text transform="translate(979.9 89.82) scale(1.0000 1)" font-family='"Liberation Sans", Arial, sans-serif' font-size="16" fill="#4d4d4d">40</text>
<rect x="1004.6" y="7.5" width="569.5" height="473.7" fill="none" stroke="#8a8a8a" stroke-width="1.6"/>
<text transform="translate(1203.88 519.6) scale(1.0000 1)" font-family='"Liberation Sans", Arial, sans-serif' font-size="20.2" fill="#000">Log<tspan font-size="14.1" dy="4.2">2</tspan><tspan dy="-4.2">(Fold Change)</tspan></text>
<text transform="translate(968.1 304.6) rotate(-90) scale(0.9940 1)" font-family='"Liberation Sans", Arial, sans-serif' font-size="20.2" fill="#000">− Log<tspan font-size="14.1" dy="4.2">10</tspan><tspan dy="-4.2">(FDR)</tspan></text>
<text transform="translate(1594.99 214.3) scale(1.0003 1)" font-family='"Liberation Sans", Arial, sans-serif' font-size="20.3" fill="#000">Statistics</text>
<circle cx="1606" cy="237.2" r="2.9" fill="#b41a30"/>
<text transform="translate(1626.26 242.5) scale(1.0044 1)" font-family='"Liberation Sans", Arial, sans-serif' font-size="16.5" fill="#000">Up: 123</text>
<circle cx="1606" cy="258.5" r="2.9" fill="#2368ae"/>
<text transform="translate(1626.17 263.8) scale(1.0043 1)" font-family='"Liberation Sans", Arial, sans-serif' font-size="16.5" fill="#000">Down: 220</text>
<circle cx="1606" cy="279.9" r="2.9" fill="#a3a3a3"/>
<text transform="translate(1626.02 285.3) scale(0.9963 1)" font-family='"Liberation Sans", Arial, sans-serif' font-size="16.5" fill="#000">Insignificant: 20287</text>
<text transform="translate(903.09 78.7) scale(0.9676 1)" font-family='"Liberation Serif", "Times New Roman", serif' font-size="63" font-weight="bold" fill="#000">B</text>
</g>
<g id="panelC">
<rect x="111.5" y="597.2" width="560.8" height="482.6" fill="#fff" stroke="none" stroke-width="1"/>
<line x1="111.5" y1="981.1" x2="672.3" y2="981.1" stroke="#f2f2f2" stroke-width="0.6"/>
<line x1="111.5" y1="827.1" x2="672.3" y2="827.1" stroke="#f2f2f2" stroke-width="0.6"/>
<line x1="111.5" y1="673.1" x2="672.3" y2="673.1" stroke="#f2f2f2" stroke-width="0.6"/>
<line x1="225.3" y1="597.2" x2="225.3" y2="1079.8" stroke="#ebebeb" stroke-width="1.1"/>
<line x1="308.5" y1="597.2" x2="308.5" y2="1079.8" stroke="#ebebeb" stroke-width="1.1"/>
<line x1="350.1" y1="597.2" x2="350.1" y2="1079.8" stroke="#ebebeb" stroke-width="1.1"/>
<line x1="391.7" y1="597.2" x2="391.7" y2="1079.8" stroke="#ebebeb" stroke-width="1.1"/>
<line x1="433.3" y1="597.2" x2="433.3" y2="1079.8" stroke="#ebebeb" stroke-width="1.1"/>
<line x1="474.9" y1="597.2" x2="474.9" y2="1079.8" stroke="#ebebeb" stroke-width="1.1"/>
<line x1="558.1" y1="597.2" x2="558.1" y2="1079.8" stroke="#ebebeb" stroke-width="1.1"/>
<line x1="111.5" y1="1058.1" x2="672.3" y2="1058.1" stroke="#ebebeb" stroke-width="1.1"/>
<line x1="111.5" y1="904.1" x2="672.3" y2="904.1" stroke="#ebebeb" stroke-width="1.1"/>
<line x1="111.5" y1="750.1" x2="672.3" y2="750.1" stroke="#ebebeb" stroke-width="1.1"/>
<g fill="#2368ae" fill-opacity="0.93"><circle cx="136.5" cy="995.4" r="2.7"/><circle cx="160" cy="1007.8" r="2.7"/><circle cx="171.4" cy="1014.3" r="2.7"/><circle cx="156.5" cy="1052" r="2.7"/><circle cx="215.7" cy="1031.5" r="2.7"/><circle cx="219.5" cy="1034.8" r="2.7"/><circle cx="228.3" cy="1040.9" r="2.7"/><circle cx="231.1" cy="1044.7" r="2.7"/><circle cx="237.2" cy="1043.4" r="2.7"/><circle cx="247.3" cy="1046.7" r="2.7"/><circle cx="254.1" cy="1046.5" r="2.7"/><circle cx="265" cy="1042.2" r="2.7"/><circle cx="280.7" cy="1030.8" r="2.7"/><circle cx="278.1" cy="1039.6" r="2.7"/><circle cx="330.5" cy="1005.8" r="2.7"/><circle cx="312.5" cy="1012.3" r="2.7"/><circle cx="306.7" cy="1018.6" r="2.7"/><circle cx="311.5" cy="1018.6" r="2.7"/><circle cx="329.5" cy="1016.9" r="2.7"/><circle cx="338.8" cy="1016.1" r="2.7"/><circle cx="341.8" cy="1016.6" r="2.7"/><circle cx="344.9" cy="1017.1" r="2.7"/><circle cx="361.1" cy="1021.9" r="2.7"/><circle cx="343.9" cy="1025" r="2.7"/><circle cx="320.6" cy="1025" r="2.7"/><circle cx="311" cy="1027" r="2.7"/><circle cx="314.8" cy="1030.3" r="2.7"/><circle cx="305.9" cy="1029.5" r="2.7"/><circle cx="350.7" cy="1026.2" r="2.7"/><circle cx="355.5" cy="1026.2" r="2.7"/><circle cx="360.3" cy="1030.8" r="2.7"/><circle cx="367.9" cy="1033.3" r="2.7"/><circle cx="328.2" cy="1029.3" r="2.7"/><circle cx="333" cy="1035.5" r="2.7"/><circle cx="342.6" cy="1033.3" r="2.7"/><circle cx="298" cy="1034.5" r="2.7"/><circle cx="294.5" cy="1036.5" r="2.7"/><circle cx="289" cy="1043.5" r="2.7"/><circle cx="292" cy="1047" r="2.7"/><circle cx="297.5" cy="1045.5" r="2.7"/><circle cx="301" cy="1046.5" r="2.7"/><circle cx="258" cy="1050" r="2.7"/><circle cx="262" cy="1051.5" r="2.7"/><circle cx="268" cy="1050.5" r="2.7"/><circle cx="271" cy="1052.6" r="2.7"/><circle cx="274" cy="1049" r="2.7"/><circle cx="284" cy="1048.5" r="2.7"/><circle cx="256.5" cy="1048.3" r="2.7"/><circle cx="286.5" cy="1050.5" r="2.7"/><circle cx="351.07" cy="1052.76" r="2.7"/><circle cx="323.98" cy="1048.17" r="2.7"/><circle cx="344.94" cy="1047.11" r="2.7"/><circle cx="349.13" cy="1052.68" r="2.7"/><circle cx="338.94" cy="1050.85" r="2.7"/><circle cx="331.38" cy="1050.67" r="2.7"/><circle cx="357.73" cy="1051.69" r="2.7"/><circle cx="338.24" cy="1052.54" r="2.7"/><circle cx="354.72" cy="1048.57" r="2.7"/><circle cx="331.41" cy="1049.32" r="2.7"/><circle cx="322.25" cy="1046.51" r="2.7"/><circle cx="366.37" cy="1052.21" r="2.7"/><circle cx="359.75" cy="1052.14" r="2.7"/><circle cx="355.22" cy="1044.38" r="2.7"/><circle cx="349.3" cy="1044.35" r="2.7"/><circle cx="309.93" cy="1051.15" r="2.7"/><circle cx="348.55" cy="1044.59" r="2.7"/><circle cx="342.12" cy="1048.36" r="2.7"/><circle cx="338.78" cy="1050.58" r="2.7"/><circle cx="341.45" cy="1047.95" r="2.7"/><circle cx="309.91" cy="1049.06" r="2.7"/><circle cx="329.46" cy="1048.12" r="2.7"/><circle cx="347.85" cy="1048.95" r="2.7"/><circle cx="333.99" cy="1052.41" r="2.7"/><circle cx="361.23" cy="1048.93" r="2.7"/><circle cx="331.64" cy="1048.15" r="2.7"/><circle cx="355.86" cy="1045.91" r="2.7"/><circle cx="363.07" cy="1049.29" r="2.7"/><circle cx="327.16" cy="1050.83" r="2.7"/><circle cx="320.08" cy="1052.02" r="2.7"/><circle cx="354.97" cy="1051.91" r="2.7"/><circle cx="319.53" cy="1052.55" r="2.7"/><circle cx="301.6" cy="1050.39" r="2.7"/><circle cx="363.3" cy="1045.82" r="2.7"/><circle cx="308.84" cy="1049.25" r="2.7"/><circle cx="332.52" cy="1051.05" r="2.7"/><circle cx="319.98" cy="1050.92" r="2.7"/><circle cx="343.53" cy="1048.7" r="2.7"/><circle cx="318.22" cy="1049.17" r="2.7"/><circle cx="354.5" cy="1046.48" r="2.7"/><circle cx="369.81" cy="1047.09" r="2.7"/><circle cx="322.35" cy="1049.63" r="2.7"/><circle cx="363.2" cy="1051.33" r="2.7"/><circle cx="346.73" cy="1046.92" r="2.7"/><circle cx="336.22" cy="1048.7" r="2.7"/><circle cx="350.39" cy="1042.23" r="2.7"/><circle cx="341.44" cy="1052.55" r="2.7"/><circle cx="367.72" cy="1049.06" r="2.7"/><circle cx="377.73" cy="1048.19" r="2.7"/><circle cx="308.55" cy="1051.45" r="2.7"/><circle cx="365.99" cy="1052.33" r="2.7"/><circle cx="342.82" cy="1047.63" r="2.7"/><circle cx="340.8" cy="1051.76" r="2.7"/><circle cx="356.2" cy="1045.64" r="2.7"/><circle cx="331.23" cy="1048.03" r="2.7"/><circle cx="352.6" cy="1052.6" r="2.7"/><circle cx="322.12" cy="1052.47" r="2.7"/><circle cx="323.96" cy="1049.02" r="2.7"/><circle cx="342.66" cy="1050.62" r="2.7"/><circle cx="316.23" cy="1052.01" r="2.7"/><circle cx="358.1" cy="1043.16" r="2.7"/><circle cx="324.07" cy="1051.97" r="2.7"/><circle cx="369.33" cy="1050.49" r="2.7"/><circle cx="293.49" cy="1051.86" r="2.7"/><circle cx="368.58" cy="1045.69" r="2.7"/><circle cx="345.15" cy="1052.51" r="2.7"/><circle cx="371.75" cy="1052.64" r="2.7"/><circle cx="371.84" cy="1042.65" r="2.7"/><circle cx="353.27" cy="1049.65" r="2.7"/><circle cx="290.85" cy="1051.63" r="2.7"/><circle cx="370.85" cy="1045.97" r="2.7"/><circle cx="352.99" cy="1049.16" r="2.7"/><circle cx="368.47" cy="1047.01" r="2.7"/><circle cx="365.67" cy="1044.9" r="2.7"/><circle cx="291.14" cy="1052.23" r="2.7"/><circle cx="344.15" cy="1051.77" r="2.7"/><circle cx="347.54" cy="1051.65" r="2.7"/><circle cx="372.68" cy="1047.16" r="2.7"/><circle cx="358.91" cy="1046.89" r="2.7"/><circle cx="336.13" cy="1050.43" r="2.7"/><circle cx="324.4" cy="1051.76" r="2.7"/><circle cx="351.95" cy="1045.71" r="2.7"/><circle cx="325.48" cy="1051.54" r="2.7"/><circle cx="329.32" cy="1050.46" r="2.7"/><circle cx="311.59" cy="1052.54" r="2.7"/><circle cx="339.92" cy="1048.55" r="2.7"/><circle cx="342.92" cy="1051.34" r="2.7"/><circle cx="349.02" cy="1051.59" r="2.7"/><circle cx="362.08" cy="1045.69" r="2.7"/><circle cx="342.46" cy="1049.91" r="2.7"/><circle cx="287.21" cy="1052.3" r="2.7"/><circle cx="360.47" cy="1042.67" r="2.7"/><circle cx="350.85" cy="1045.96" r="2.7"/><circle cx="290.81" cy="1051.37" r="2.7"/><circle cx="348.89" cy="1043.39" r="2.7"/><circle cx="343.44" cy="1048.66" r="2.7"/><circle cx="306.9" cy="1051.32" r="2.7"/><circle cx="332.16" cy="1047.59" r="2.7"/><circle cx="362.9" cy="1048.16" r="2.7"/><circle cx="355.53" cy="1046.12" r="2.7"/><circle cx="351.25" cy="1048.37" r="2.7"/><circle cx="322.7" cy="1046.58" r="2.7"/><circle cx="343.22" cy="1049.83" r="2.7"/><circle cx="327.81" cy="1052.14" r="2.7"/><circle cx="365.95" cy="1042.54" r="2.7"/><circle cx="363.28" cy="1042.6" r="2.7"/><circle cx="337.07" cy="1050.98" r="2.7"/><circle cx="350.38" cy="1051.72" r="2.7"/><circle cx="328.17" cy="1051.48" r="2.7"/><circle cx="306.13" cy="1051" r="2.7"/><circle cx="360.01" cy="1051.31" r="2.7"/><circle cx="363.88" cy="1048.04" r="2.7"/><circle cx="292.93" cy="1050.97" r="2.7"/><circle cx="373.35" cy="1047.29" r="2.7"/><circle cx="328.76" cy="1047.25" r="2.7"/><circle cx="340.38" cy="1052.66" r="2.7"/><circle cx="321.96" cy="1050.09" r="2.7"/><circle cx="351.34" cy="1051.17" r="2.7"/><circle cx="363.99" cy="1052.43" r="2.7"/><circle cx="286.2" cy="1052.7" r="2.7"/><circle cx="348.45" cy="1048.04" r="2.7"/><circle cx="301.4" cy="1049.1" r="2.7"/><circle cx="366.53" cy="1050.64" r="2.7"/><circle cx="327.36" cy="1049.05" r="2.7"/><circle cx="361.9" cy="1047.96" r="2.7"/><circle cx="338.01" cy="1047.35" r="2.7"/><circle cx="301.51" cy="1052.14" r="2.7"/><circle cx="335.94" cy="1052.73" r="2.7"/><circle cx="297.69" cy="1052.39" r="2.7"/><circle cx="368.73" cy="1044.78" r="2.7"/><circle cx="369.69" cy="1052.84" r="2.7"/><circle cx="376.28" cy="1049.88" r="2.7"/><circle cx="347.4" cy="1047.26" r="2.7"/><circle cx="297.72" cy="1050.99" r="2.7"/><circle cx="356" cy="1048.37" r="2.7"/><circle cx="334.23" cy="1048.57" r="2.7"/><circle cx="340.2" cy="1046.97" r="2.7"/><circle cx="351.97" cy="1049.9" r="2.7"/><circle cx="328.01" cy="1051.3" r="2.7"/><circle cx="323.66" cy="1050.43" r="2.7"/><circle cx="346.14" cy="1051.48" r="2.7"/><circle cx="323.94" cy="1047.32" r="2.7"/><circle cx="374.47" cy="1043.76" r="2.7"/><circle cx="364.63" cy="1048.18" r="2.7"/><circle cx="348.88" cy="1052.15" r="2.7"/><circle cx="326.14" cy="1051.6" r="2.7"/><circle cx="357.24" cy="1045.85" r="2.7"/><circle cx="365.87" cy="1051.68" r="2.7"/><circle cx="342.62" cy="1049.4" r="2.7"/><circle cx="345.54" cy="1051.34" r="2.7"/><circle cx="345.91" cy="1050.12" r="2.7"/><circle cx="354.27" cy="1047.78" r="2.7"/><circle cx="323.51" cy="1050.01" r="2.7"/><circle cx="356.44" cy="1051.48" r="2.7"/><circle cx="328.56" cy="1050.15" r="2.7"/><circle cx="315.87" cy="1052.48" r="2.7"/><circle cx="368.77" cy="1048.3" r="2.7"/><circle cx="368.77" cy="1049.01" r="2.7"/><circle cx="364.76" cy="1047.95" r="2.7"/><circle cx="371.21" cy="1050.12" r="2.7"/><circle cx="350.83" cy="1043.34" r="2.7"/><circle cx="352.73" cy="1046.93" r="2.7"/><circle cx="366.03" cy="1052.23" r="2.7"/><circle cx="352.59" cy="1044.68" r="2.7"/><circle cx="336.84" cy="1050.25" r="2.7"/><circle cx="312.59" cy="1051.34" r="2.7"/><circle cx="345.75" cy="1047.9" r="2.7"/><circle cx="341.27" cy="1049.69" r="2.7"/><circle cx="365.29" cy="1049.26" r="2.7"/><circle cx="369.09" cy="1043.31" r="2.7"/><circle cx="329.03" cy="1050.55" r="2.7"/><circle cx="323.62" cy="1046.51" r="2.7"/><circle cx="370.3" cy="1042.97" r="2.7"/><circle cx="323.96" cy="1051.67" r="2.7"/><circle cx="357.65" cy="1045.23" r="2.7"/><circle cx="362.48" cy="1047.65" r="2.7"/><circle cx="349.27" cy="1052.34" r="2.7"/><circle cx="373.18" cy="1051.27" r="2.7"/><circle cx="339.65" cy="1047.03" r="2.7"/><circle cx="309.35" cy="1049.37" r="2.7"/><circle cx="350.43" cy="1051.99" r="2.7"/><circle cx="361.29" cy="1045.41" r="2.7"/><circle cx="356.96" cy="1042.27" r="2.7"/><circle cx="334.71" cy="1048.95" r="2.7"/><circle cx="336.99" cy="1046.59" r="2.7"/><circle cx="369.89" cy="1052.3" r="2.7"/><circle cx="348.05" cy="1048.83" r="2.7"/><circle cx="366.25" cy="1043.46" r="2.7"/><circle cx="365.03" cy="1043.8" r="2.7"/><circle cx="342.33" cy="1051.63" r="2.7"/><circle cx="370.04" cy="1048.53" r="2.7"/><circle cx="325.18" cy="1048.39" r="2.7"/><circle cx="336.7" cy="1050.18" r="2.7"/><circle cx="313.78" cy="1052.21" r="2.7"/><circle cx="327.39" cy="1047.76" r="2.7"/><circle cx="351.61" cy="1051.73" r="2.7"/><circle cx="295.91" cy="1052.28" r="2.7"/><circle cx="374.1" cy="1044.84" r="2.7"/><circle cx="350.41" cy="1052.02" r="2.7"/><circle cx="346.49" cy="1052.3" r="2.7"/><circle cx="340.81" cy="1050.73" r="2.7"/><circle cx="356.4" cy="1048.31" r="2.7"/><circle cx="362.81" cy="1052.16" r="2.7"/><circle cx="314.06" cy="1052.41" r="2.7"/><circle cx="338.61" cy="1049.68" r="2.7"/><circle cx="326.67" cy="1050.72" r="2.7"/><circle cx="356.47" cy="1045.37" r="2.7"/><circle cx="371.29" cy="1042.98" r="2.7"/><circle cx="365.54" cy="1046.84" r="2.7"/><circle cx="344.98" cy="1047.48" r="2.7"/><circle cx="358.67" cy="1047.88" r="2.7"/><circle cx="297.37" cy="1051.01" r="2.7"/><circle cx="311.69" cy="1049.48" r="2.7"/><circle cx="336.22" cy="1050.63" r="2.7"/><circle cx="313.41" cy="1049.21" r="2.7"/><circle cx="354.7" cy="1042.17" r="2.7"/><circle cx="311.82" cy="1049.24" r="2.7"/><circle cx="354.37" cy="1043.92" r="2.7"/><circle cx="335.03" cy="1052.41" r="2.7"/><circle cx="299.68" cy="1051.16" r="2.7"/><circle cx="350.78" cy="1048.04" r="2.7"/><circle cx="358.26" cy="1051.05" r="2.7"/><circle cx="328.22" cy="1047.03" r="2.7"/><circle cx="325.74" cy="1048.74" r="2.7"/><circle cx="352.37" cy="1048.57" r="2.7"/><circle cx="369.96" cy="1047.49" r="2.7"/><circle cx="355.44" cy="1052.52" r="2.7"/><circle cx="370.79" cy="1047.63" r="2.7"/><circle cx="324.58" cy="1049.93" r="2.7"/><circle cx="324.56" cy="1047.98" r="2.7"/><circle cx="363.61" cy="1044.51" r="2.7"/><circle cx="349.51" cy="1052.5" r="2.7"/><circle cx="292.19" cy="1052.06" r="2.7"/><circle cx="339.04" cy="1047.57" r="2.7"/><circle cx="331.96" cy="1052.49" r="2.7"/><circle cx="337.39" cy="1049.05" r="2.7"/><circle cx="333.57" cy="1052.71" r="2.7"/><circle cx="356.74" cy="1044.05" r="2.7"/><circle cx="309.26" cy="1050.79" r="2.7"/><circle cx="350" cy="1045.07" r="2.7"/><circle cx="345.06" cy="1049.49" r="2.7"/><circle cx="331.95" cy="1047.91" r="2.7"/><circle cx="355.73" cy="1044.82" r="2.7"/><circle cx="335.77" cy="1050.27" r="2.7"/><circle cx="346.83" cy="1049.62" r="2.7"/><circle cx="363.47" cy="1042.51" r="2.7"/><circle cx="330.06" cy="1047.65" r="2.7"/><circle cx="339.93" cy="1050.56" r="2.7"/><circle cx="360.28" cy="1046.29" r="2.7"/><circle cx="321.32" cy="1049.16" r="2.7"/><circle cx="321.05" cy="1050.08" r="2.7"/><circle cx="314.18" cy="1052.37" r="2.7"/><circle cx="356.91" cy="1051.51" r="2.7"/><circle cx="359.35" cy="1046.17" r="2.7"/><circle cx="325.52" cy="1048.99" r="2.7"/><circle cx="344.82" cy="1050.25" r="2.7"/><circle cx="304.1" cy="1050.31" r="2.7"/><circle cx="321.62" cy="1049.38" r="2.7"/><circle cx="350.49" cy="1052.79" r="2.7"/><circle cx="344.76" cy="1047.15" r="2.7"/><circle cx="357.06" cy="1051.2" r="2.7"/><circle cx="349.76" cy="1043.22" r="2.7"/><circle cx="363.36" cy="1047.3" r="2.7"/><circle cx="296.96" cy="1050.87" r="2.7"/><circle cx="324.17" cy="1049.88" r="2.7"/><circle cx="333.92" cy="1050.84" r="2.7"/><circle cx="374.65" cy="1046.02" r="2.7"/><circle cx="336.35" cy="1050.07" r="2.7"/><circle cx="320.92" cy="1049.14" r="2.7"/><circle cx="359.95" cy="1044.95" r="2.7"/><circle cx="367.42" cy="1051.41" r="2.7"/><circle cx="303.58" cy="1051.26" r="2.7"/><circle cx="352.51" cy="1048.91" r="2.7"/><circle cx="350.8" cy="1044.09" r="2.7"/><circle cx="374.75" cy="1050.66" r="2.7"/><circle cx="301.19" cy="1049.95" r="2.7"/><circle cx="365.56" cy="1050.49" r="2.7"/><circle cx="343.6" cy="1051.58" r="2.7"/><circle cx="339.57" cy="1050.99" r="2.7"/><circle cx="359.87" cy="1044.93" r="2.7"/><circle cx="317.87" cy="1051.96" r="2.7"/><circle cx="370.89" cy="1042.36" r="2.7"/><circle cx="371.48" cy="1043.57" r="2.7"/><circle cx="300.03" cy="1050.88" r="2.7"/><circle cx="325.31" cy="1047.52" r="2.7"/><circle cx="307.64" cy="1050.85" r="2.7"/><circle cx="361.48" cy="1048.21" r="2.7"/><circle cx="333.31" cy="1049.27" r="2.7"/><circle cx="357.53" cy="1047.65" r="2.7"/><circle cx="369.15" cy="1049.34" r="2.7"/><circle cx="340.66" cy="1052.09" r="2.7"/><circle cx="361.38" cy="1047.21" r="2.7"/><circle cx="366.44" cy="1051.73" r="2.7"/><circle cx="366.89" cy="1047.11" r="2.7"/><circle cx="362.14" cy="1050.46" r="2.7"/><circle cx="371.98" cy="1045.55" r="2.7"/><circle cx="350.73" cy="1048.57" r="2.7"/><circle cx="351.78" cy="1042.13" r="2.7"/><circle cx="332.14" cy="1050.33" r="2.7"/><circle cx="328.98" cy="1047.46" r="2.7"/><circle cx="326.9" cy="1048.16" r="2.7"/><circle cx="335.03" cy="1047.76" r="2.7"/><circle cx="342.81" cy="1050.19" r="2.7"/><circle cx="374.78" cy="1050.86" r="2.7"/><circle cx="372.86" cy="1049.02" r="2.7"/><circle cx="319.27" cy="1051.04" r="2.7"/><circle cx="292.85" cy="1051.63" r="2.7"/><circle cx="351.31" cy="1052.68" r="2.7"/><circle cx="362.29" cy="1043.67" r="2.7"/><circle cx="351.4" cy="1048.11" r="2.7"/><circle cx="330.21" cy="1048.98" r="2.7"/><circle cx="320.65" cy="1052.82" r="2.7"/><circle cx="336.35" cy="1048.23" r="2.7"/><circle cx="358.14" cy="1044.23" r="2.7"/><circle cx="323.14" cy="1050.23" r="2.7"/><circle cx="331.4" cy="1049.71" r="2.7"/><circle cx="359.4" cy="1052.59" r="2.7"/><circle cx="349.15" cy="1051.78" r="2.7"/><circle cx="323.78" cy="1052.67" r="2.7"/><circle cx="321.29" cy="1048.73" r="2.7"/><circle cx="318.85" cy="1051.73" r="2.7"/><circle cx="328.92" cy="1048.97" r="2.7"/><circle cx="346.88" cy="1050.42" r="2.7"/><circle cx="303.1" cy="1050.03" r="2.7"/><circle cx="363.24" cy="1043.06" r="2.7"/><circle cx="371.55" cy="1051.9" r="2.7"/><circle cx="338.02" cy="1050.94" r="2.7"/><circle cx="342.46" cy="1051.07" r="2.7"/><circle cx="327.58" cy="1049.46" r="2.7"/><circle cx="344.54" cy="1052.56" r="2.7"/><circle cx="307.38" cy="1051.2" r="2.7"/><circle cx="347.42" cy="1048.61" r="2.7"/><circle cx="376.18" cy="1052.13" r="2.7"/><circle cx="324.14" cy="1052.03" r="2.7"/><circle cx="362" cy="1050.69" r="2.7"/><circle cx="369.17" cy="1048.29" r="2.7"/><circle cx="336.33" cy="1048.42" r="2.7"/><circle cx="363.91" cy="1050.29" r="2.7"/><circle cx="375.84" cy="1051.67" r="2.7"/><circle cx="363.21" cy="1048.88" r="2.7"/><circle cx="303.77" cy="1052.13" r="2.7"/><circle cx="355.57" cy="1049.16" r="2.7"/><circle cx="362.04" cy="1044.03" r="2.7"/><circle cx="355.64" cy="1043.19" r="2.7"/><circle cx="367.82" cy="1046.11" r="2.7"/><circle cx="373.26" cy="1050.31" r="2.7"/><circle cx="325.72" cy="1050.07" r="2.7"/><circle cx="342.34" cy="1046.53" r="2.7"/><circle cx="327.99" cy="1047" r="2.7"/><circle cx="349.79" cy="1049.13" r="2.7"/><circle cx="374.43" cy="1046.26" r="2.7"/><circle cx="313.13" cy="1050.46" r="2.7"/><circle cx="294.01" cy="1052.26" r="2.7"/><circle cx="317.03" cy="1051.56" r="2.7"/><circle cx="331.23" cy="1049.32" r="2.7"/><circle cx="334.16" cy="1047.94" r="2.7"/><circle cx="340.87" cy="1052.04" r="2.7"/><circle cx="290.81" cy="1052.86" r="2.7"/><circle cx="363.12" cy="1043.86" r="2.7"/><circle cx="347.03" cy="1042.91" r="2.7"/><circle cx="333.9" cy="1048.31" r="2.7"/><circle cx="359.79" cy="1042.84" r="2.7"/><circle cx="342.97" cy="1050.14" r="2.7"/><circle cx="326.14" cy="1049.47" r="2.7"/><circle cx="327.33" cy="1051.84" r="2.7"/><circle cx="332.19" cy="1047.54" r="2.7"/><circle cx="362.4" cy="1052.63" r="2.7"/><circle cx="355.74" cy="1048.27" r="2.7"/><circle cx="346.1" cy="1052.67" r="2.7"/><circle cx="340.67" cy="1048.77" r="2.7"/><circle cx="355.41" cy="1048.38" r="2.7"/><circle cx="364.14" cy="1051.3" r="2.7"/><circle cx="372.77" cy="1045.18" r="2.7"/><circle cx="352.31" cy="1049.35" r="2.7"/><circle cx="328.89" cy="1050.39" r="2.7"/><circle cx="346.51" cy="1046.44" r="2.7"/><circle cx="325" cy="1051.09" r="2.7"/><circle cx="348.69" cy="1043.22" r="2.7"/><circle cx="359.51" cy="1050.97" r="2.7"/><circle cx="301.58" cy="1050.05" r="2.7"/><circle cx="317.57" cy="1050.99" r="2.7"/><circle cx="339.23" cy="1046.66" r="2.7"/><circle cx="373.92" cy="1049.71" r="2.7"/><circle cx="335.27" cy="1050.04" r="2.7"/><circle cx="304.93" cy="1049.79" r="2.7"/><circle cx="354.59" cy="1049.37" r="2.7"/><circle cx="352.81" cy="1050.67" r="2.7"/><circle cx="348.53" cy="1044.11" r="2.7"/><circle cx="360.52" cy="1052.28" r="2.7"/><circle cx="353.75" cy="1052.56" r="2.7"/><circle cx="351.56" cy="1046.78" r="2.7"/><circle cx="341.31" cy="1051" r="2.7"/><circle cx="342.38" cy="1050.5" r="2.7"/><circle cx="370.38" cy="1050.26" r="2.7"/><circle cx="303.49" cy="1052.8" r="2.7"/><circle cx="373.76" cy="1047.08" r="2.7"/><circle cx="301.4" cy="1050.1" r="2.7"/><circle cx="364.41" cy="1042.79" r="2.7"/><circle cx="311.28" cy="1052.69" r="2.7"/><circle cx="357.44" cy="1046.13" r="2.7"/><circle cx="318.88" cy="1051.58" r="2.7"/><circle cx="320" cy="1051.09" r="2.7"/><circle cx="356.82" cy="1046.04" r="2.7"/><circle cx="344.82" cy="1052.44" r="2.7"/><circle cx="360.24" cy="1044.2" r="2.7"/><circle cx="367.64" cy="1049.67" r="2.7"/><circle cx="326.95" cy="1050.66" r="2.7"/><circle cx="356.5" cy="1051.53" r="2.7"/><circle cx="326.9" cy="1048.67" r="2.7"/><circle cx="358.49" cy="1044.45" r="2.7"/><circle cx="308.22" cy="1050.06" r="2.7"/><circle cx="334.01" cy="1051.68" r="2.7"/><circle cx="365.18" cy="1047.65" r="2.7"/><circle cx="343.7" cy="1052.48" r="2.7"/><circle cx="341.52" cy="1047.47" r="2.7"/><circle cx="361.03" cy="1046.92" r="2.7"/><circle cx="301.21" cy="1050.98" r="2.7"/><circle cx="359.29" cy="1044.13" r="2.7"/><circle cx="316.77" cy="1051.12" r="2.7"/><circle cx="375.18" cy="1051.74" r="2.7"/><circle cx="372.92" cy="1048.27" r="2.7"/><circle cx="374.01" cy="1046.25" r="2.7"/><circle cx="372.92" cy="1049.87" r="2.7"/><circle cx="376.2" cy="1048.98" r="2.7"/><circle cx="372.51" cy="1045.81" r="2.7"/><circle cx="371.96" cy="1049.88" r="2.7"/><circle cx="374.42" cy="1052" r="2.7"/><circle cx="375.2" cy="1047.16" r="2.7"/><circle cx="376.94" cy="1051.92" r="2.7"/><circle cx="375.87" cy="1051.54" r="2.7"/><circle cx="376.9" cy="1052.22" r="2.7"/><circle cx="375.57" cy="1051.75" r="2.7"/><circle cx="372.23" cy="1052.74" r="2.7"/><circle cx="377.79" cy="1050.97" r="2.7"/><circle cx="372.53" cy="1046.56" r="2.7"/><circle cx="376.31" cy="1052.5" r="2.7"/><circle cx="373.34" cy="1050.93" r="2.7"/><circle cx="372.27" cy="1049.92" r="2.7"/><circle cx="374.99" cy="1051.54" r="2.7"/><circle cx="372.92" cy="1046.13" r="2.7"/><circle cx="372.79" cy="1047.22" r="2.7"/><circle cx="375.53" cy="1052.34" r="2.7"/><circle cx="377.83" cy="1048.91" r="2.7"/><circle cx="372.97" cy="1051.64" r="2.7"/><circle cx="375.55" cy="1049.75" r="2.7"/><circle cx="373.85" cy="1052.35" r="2.7"/><circle cx="296.92" cy="1036.48" r="2.7"/><circle cx="343.35" cy="1040.94" r="2.7"/><circle cx="301.75" cy="1046.86" r="2.7"/><circle cx="366.57" cy="1027.12" r="2.7"/><circle cx="345.61" cy="1040.73" r="2.7"/><circle cx="330.94" cy="1031.78" r="2.7"/><circle cx="361.25" cy="1040.2" r="2.7"/><circle cx="346.6" cy="1028.79" r="2.7"/><circle cx="362.42" cy="1041.99" r="2.7"/><circle cx="315.57" cy="1047.73" r="2.7"/><circle cx="347.64" cy="1041.88" r="2.7"/><circle cx="346.62" cy="1031.13" r="2.7"/><circle cx="368.5" cy="1031.63" r="2.7"/><circle cx="341.87" cy="1046.11" r="2.7"/><circle cx="344.44" cy="1023.74" r="2.7"/><circle cx="375.5" cy="1037.41" r="2.7"/><circle cx="352.47" cy="1041.67" r="2.7"/><circle cx="355.31" cy="1039.47" r="2.7"/><circle cx="315.31" cy="1038.6" r="2.7"/><circle cx="330" cy="1045.27" r="2.7"/><circle cx="369.52" cy="1039.76" r="2.7"/><circle cx="348.99" cy="1037.2" r="2.7"/><circle cx="334.41" cy="1045.39" r="2.7"/><circle cx="330.63" cy="1032.25" r="2.7"/><circle cx="351.39" cy="1031.45" r="2.7"/><circle cx="350.72" cy="1030.28" r="2.7"/><circle cx="355.53" cy="1038.38" r="2.7"/><circle cx="308.02" cy="1047.63" r="2.7"/><circle cx="350.3" cy="1036.9" r="2.7"/><circle cx="315.1" cy="1047.23" r="2.7"/><circle cx="313.52" cy="1046.51" r="2.7"/><circle cx="340.6" cy="1046.15" r="2.7"/><circle cx="360.38" cy="1039.66" r="2.7"/><circle cx="333.11" cy="1044.99" r="2.7"/><circle cx="358.86" cy="1018.58" r="2.7"/><circle cx="319.24" cy="1047.9" r="2.7"/><circle cx="325.12" cy="1044.52" r="2.7"/><circle cx="353.47" cy="1037.94" r="2.7"/><circle cx="327.24" cy="1040.82" r="2.7"/><circle cx="372.14" cy="1038.66" r="2.7"/><circle cx="313.1" cy="1046.86" r="2.7"/><circle cx="335.8" cy="1045.12" r="2.7"/><circle cx="354.94" cy="1037.5" r="2.7"/><circle cx="303.57" cy="1046.64" r="2.7"/><circle cx="354.6" cy="1029.1" r="2.7"/><circle cx="354.12" cy="1015.69" r="2.7"/><circle cx="361.13" cy="1026.77" r="2.7"/><circle cx="327.63" cy="1035.43" r="2.7"/><circle cx="352.16" cy="1037.73" r="2.7"/><circle cx="348.86" cy="1036.75" r="2.7"/><circle cx="302.4" cy="1047.83" r="2.7"/><circle cx="327.06" cy="1036.11" r="2.7"/><circle cx="311.8" cy="1033.44" r="2.7"/><circle cx="358.57" cy="1014.26" r="2.7"/><circle cx="329.4" cy="1045.49" r="2.7"/><circle cx="312.16" cy="1044.55" r="2.7"/><circle cx="354.16" cy="1040.94" r="2.7"/><circle cx="360.99" cy="1032.2" r="2.7"/><circle cx="365.47" cy="1040.12" r="2.7"/><circle cx="375.24" cy="1043.48" r="2.7"/><circle cx="317.49" cy="1038.19" r="2.7"/><circle cx="336.44" cy="1039.8" r="2.7"/><circle cx="335.15" cy="1042.38" r="2.7"/><circle cx="339.02" cy="1042.4" r="2.7"/><circle cx="321.04" cy="1041.03" r="2.7"/><circle cx="334.88" cy="1045.28" r="2.7"/><circle cx="310.24" cy="1038.66" r="2.7"/><circle cx="335.55" cy="1033.94" r="2.7"/><circle cx="333.76" cy="1026.21" r="2.7"/><circle cx="332.6" cy="1045.32" r="2.7"/><circle cx="329.36" cy="1031.72" r="2.7"/><circle cx="370.56" cy="1040.43" r="2.7"/><circle cx="353" cy="1019.27" r="2.7"/><circle cx="331.96" cy="1045.85" r="2.7"/><circle cx="312.54" cy="1045.64" r="2.7"/></g>
<g fill="#b41a30" fill-opacity="0.93"><circle cx="457.5" cy="949.1" r="2.7"/><circle cx="478.5" cy="969.8" r="2.7"/><circle cx="439.3" cy="978.4" r="2.7"/><circle cx="466.1" cy="987" r="2.7"/><circle cx="489.4" cy="990.6" r="2.7"/><circle cx="498.8" cy="993.1" r="2.7"/><circle cx="486.6" cy="1003.7" r="2.7"/><circle cx="493.7" cy="1011.3" r="2.7"/><circle cx="486.4" cy="1017.4" r="2.7"/><circle cx="432.8" cy="1003.5" r="2.7"/><circle cx="556.7" cy="1022.9" r="2.7"/><circle cx="563.7" cy="1040.9" r="2.7"/><circle cx="509.1" cy="1037.6" r="2.7"/><circle cx="535.9" cy="1046" r="2.7"/><circle cx="527.6" cy="1051.3" r="2.7"/><circle cx="515" cy="1051" r="2.7"/><circle cx="506.1" cy="1051.5" r="2.7"/><circle cx="511" cy="1052.2" r="2.7"/><circle cx="623" cy="619" r="2.7"/><circle cx="432" cy="1010.5" r="2.7"/><circle cx="429.5" cy="1013.8" r="2.7"/><circle cx="427" cy="1017" r="2.7"/><circle cx="425.2" cy="1021" r="2.7"/><circle cx="450.5" cy="1014" r="2.7"/><circle cx="459.2" cy="1013.3" r="2.7"/><circle cx="464.5" cy="1015.5" r="2.7"/><circle cx="470" cy="1021.5" r="2.7"/><circle cx="474" cy="1022.5" r="2.7"/><circle cx="467.5" cy="1028.5" r="2.7"/><circle cx="475.5" cy="1029.5" r="2.7"/><circle cx="482.5" cy="1028.8" r="2.7"/><circle cx="473" cy="1035" r="2.7"/><circle cx="477.5" cy="1035.5" r="2.7"/><circle cx="487" cy="1043" r="2.7"/><circle cx="489.5" cy="1052.5" r="2.7"/><circle cx="487" cy="1047" r="2.7"/><circle cx="436.5" cy="1019" r="2.7"/><circle cx="441.5" cy="1020.5" r="2.7"/><circle cx="444" cy="1025" r="2.7"/><circle cx="455" cy="1020" r="2.7"/><circle cx="458" cy="1026.5" r="2.7"/><circle cx="438.81" cy="1047.22" r="2.7"/><circle cx="410.24" cy="1045.02" r="2.7"/><circle cx="457.25" cy="1046.58" r="2.7"/><circle cx="421.08" cy="1049.64" r="2.7"/><circle cx="438.4" cy="1046.57" r="2.7"/><circle cx="424.26" cy="1043.14" r="2.7"/><circle cx="472.01" cy="1050.15" r="2.7"/><circle cx="430.87" cy="1050.79" r="2.7"/><circle cx="448.46" cy="1049.75" r="2.7"/><circle cx="453.09" cy="1051.96" r="2.7"/><circle cx="482.93" cy="1047.96" r="2.7"/><circle cx="479.08" cy="1052.63" r="2.7"/><circle cx="435.7" cy="1047.99" r="2.7"/><circle cx="429.53" cy="1044.61" r="2.7"/><circle cx="452.69" cy="1045.4" r="2.7"/><circle cx="419.85" cy="1041.78" r="2.7"/><circle cx="417.04" cy="1040.45" r="2.7"/><circle cx="420.36" cy="1047.41" r="2.7"/><circle cx="413.26" cy="1039.09" r="2.7"/><circle cx="413.25" cy="1044.64" r="2.7"/><circle cx="425.46" cy="1043.46" r="2.7"/><circle cx="485.13" cy="1050.75" r="2.7"/><circle cx="454.78" cy="1044.42" r="2.7"/><circle cx="471.88" cy="1048.72" r="2.7"/><circle cx="453.17" cy="1049.14" r="2.7"/><circle cx="462.59" cy="1050.09" r="2.7"/><circle cx="418.05" cy="1041.96" r="2.7"/><circle cx="430.41" cy="1044.63" r="2.7"/><circle cx="435.51" cy="1044.82" r="2.7"/><circle cx="451.86" cy="1050.09" r="2.7"/><circle cx="433.52" cy="1045.68" r="2.7"/><circle cx="443.46" cy="1051.7" r="2.7"/><circle cx="420.53" cy="1040.43" r="2.7"/><circle cx="429.69" cy="1044.72" r="2.7"/><circle cx="466.04" cy="1051.7" r="2.7"/><circle cx="428.41" cy="1051.95" r="2.7"/><circle cx="424.84" cy="1048.89" r="2.7"/><circle cx="433.39" cy="1051.67" r="2.7"/><circle cx="429.21" cy="1050.93" r="2.7"/><circle cx="474.54" cy="1047.97" r="2.7"/><circle cx="458.02" cy="1047.93" r="2.7"/><circle cx="438.59" cy="1039.8" r="2.7"/><circle cx="453.17" cy="1052.34" r="2.7"/><circle cx="424.17" cy="1045.93" r="2.7"/><circle cx="426.42" cy="1052.66" r="2.7"/><circle cx="482.23" cy="1051.01" r="2.7"/><circle cx="446.72" cy="1042.7" r="2.7"/><circle cx="434.28" cy="1045.27" r="2.7"/><circle cx="423.64" cy="1049.75" r="2.7"/><circle cx="465.14" cy="1049.75" r="2.7"/><circle cx="430.59" cy="1050.89" r="2.7"/><circle cx="446.19" cy="1050.26" r="2.7"/><circle cx="423.99" cy="1045.1" r="2.7"/><circle cx="475" cy="1049.21" r="2.7"/><circle cx="448.06" cy="1049.84" r="2.7"/><circle cx="426.39" cy="1041.88" r="2.7"/><circle cx="442.98" cy="1041.54" r="2.7"/><circle cx="441.85" cy="1050.13" r="2.7"/><circle cx="422.22" cy="1049.26" r="2.7"/><circle cx="415.54" cy="1048.98" r="2.7"/><circle cx="457.36" cy="1047.03" r="2.7"/><circle cx="444.06" cy="1040.16" r="2.7"/><circle cx="441.75" cy="1043.31" r="2.7"/><circle cx="421.29" cy="1039.87" r="2.7"/><circle cx="429.06" cy="1049.96" r="2.7"/><circle cx="460.09" cy="1050.37" r="2.7"/><circle cx="428.51" cy="1047.26" r="2.7"/><circle cx="477.55" cy="1049.63" r="2.7"/><circle cx="424.83" cy="1051.27" r="2.7"/><circle cx="463.43" cy="1052.53" r="2.7"/><circle cx="412.43" cy="1045.79" r="2.7"/><circle cx="448.23" cy="1049.91" r="2.7"/><circle cx="456.36" cy="1048.18" r="2.7"/><circle cx="422.15" cy="1046.98" r="2.7"/><circle cx="440.33" cy="1047.14" r="2.7"/><circle cx="429.95" cy="1039.26" r="2.7"/><circle cx="460.66" cy="1050.1" r="2.7"/><circle cx="425.6" cy="1039.88" r="2.7"/><circle cx="412.5" cy="1040.42" r="2.7"/><circle cx="408.78" cy="1051.16" r="2.7"/><circle cx="429.28" cy="1050.92" r="2.7"/><circle cx="416.58" cy="1048.29" r="2.7"/><circle cx="446.22" cy="1039.92" r="2.7"/><circle cx="454.83" cy="1046.01" r="2.7"/><circle cx="439.02" cy="1051.54" r="2.7"/><circle cx="471.37" cy="1051.97" r="2.7"/><circle cx="465.43" cy="1047.86" r="2.7"/><circle cx="417.84" cy="1048.28" r="2.7"/><circle cx="414.44" cy="1048.47" r="2.7"/><circle cx="416.3" cy="1045.44" r="2.7"/><circle cx="439.49" cy="1042.41" r="2.7"/><circle cx="413.18" cy="1040.59" r="2.7"/><circle cx="423.98" cy="1045.44" r="2.7"/><circle cx="441.61" cy="1046.55" r="2.7"/><circle cx="430.96" cy="1040.14" r="2.7"/><circle cx="440.41" cy="1050.51" r="2.7"/><circle cx="431.17" cy="1040.15" r="2.7"/><circle cx="456.01" cy="1049.05" r="2.7"/><circle cx="485.46" cy="1052.68" r="2.7"/><circle cx="405.66" cy="1050.94" r="2.7"/><circle cx="437.26" cy="1046.84" r="2.7"/><circle cx="469.13" cy="1051.78" r="2.7"/><circle cx="426.74" cy="1049" r="2.7"/><circle cx="426.12" cy="1042.47" r="2.7"/><circle cx="430.7" cy="1051.14" r="2.7"/><circle cx="438.67" cy="1040.02" r="2.7"/><circle cx="409.72" cy="1050.56" r="2.7"/><circle cx="484.04" cy="1052.73" r="2.7"/><circle cx="436.95" cy="1047.83" r="2.7"/><circle cx="435.34" cy="1049.54" r="2.7"/><circle cx="439.36" cy="1043.17" r="2.7"/><circle cx="463.68" cy="1048.98" r="2.7"/><circle cx="451.03" cy="1044.87" r="2.7"/><circle cx="418.11" cy="1043.75" r="2.7"/><circle cx="453.72" cy="1047.58" r="2.7"/><circle cx="415.3" cy="1040.78" r="2.7"/><circle cx="439.84" cy="1041.79" r="2.7"/><circle cx="426.03" cy="1049.39" r="2.7"/><circle cx="423.78" cy="1051.28" r="2.7"/><circle cx="438.34" cy="1052.87" r="2.7"/><circle cx="458.07" cy="1047.77" r="2.7"/><circle cx="410.35" cy="1042.65" r="2.7"/><circle cx="413.15" cy="1047.01" r="2.7"/><circle cx="445.64" cy="1043.69" r="2.7"/><circle cx="446.67" cy="1040.34" r="2.7"/><circle cx="457.61" cy="1046.3" r="2.7"/><circle cx="460.84" cy="1045.5" r="2.7"/><circle cx="436.12" cy="1039.3" r="2.7"/><circle cx="437.33" cy="1046.27" r="2.7"/><circle cx="412.68" cy="1047.38" r="2.7"/><circle cx="434.47" cy="1040.89" r="2.7"/><circle cx="414.09" cy="1045.4" r="2.7"/><circle cx="468.13" cy="1051.64" r="2.7"/><circle cx="441.32" cy="1046.57" r="2.7"/><circle cx="484.16" cy="1051.53" r="2.7"/><circle cx="457.27" cy="1050.4" r="2.7"/><circle cx="455.39" cy="1052.15" r="2.7"/><circle cx="456.63" cy="1047.05" r="2.7"/><circle cx="435.78" cy="1047.12" r="2.7"/><circle cx="431.21" cy="1046.98" r="2.7"/><circle cx="409.49" cy="1047.46" r="2.7"/><circle cx="410.28" cy="1051.28" r="2.7"/><circle cx="417.82" cy="1046.11" r="2.7"/><circle cx="426.61" cy="1045.75" r="2.7"/><circle cx="412.4" cy="1051.14" r="2.7"/><circle cx="428.44" cy="1049.2" r="2.7"/><circle cx="437.78" cy="1048.06" r="2.7"/><circle cx="449.18" cy="1049.8" r="2.7"/><circle cx="438.63" cy="1040.26" r="2.7"/><circle cx="431.48" cy="1040.08" r="2.7"/><circle cx="417.37" cy="1050.13" r="2.7"/><circle cx="436.04" cy="1044.35" r="2.7"/><circle cx="436.32" cy="1043.87" r="2.7"/><circle cx="430.43" cy="1042.2" r="2.7"/><circle cx="421.96" cy="1041.74" r="2.7"/><circle cx="420.87" cy="1046.56" r="2.7"/><circle cx="437.86" cy="1047.4" r="2.7"/><circle cx="434.95" cy="1039.21" r="2.7"/><circle cx="447.26" cy="1049.06" r="2.7"/><circle cx="447" cy="1041.64" r="2.7"/><circle cx="488.75" cy="1052.36" r="2.7"/><circle cx="444.81" cy="1049.28" r="2.7"/><circle cx="450.73" cy="1048.5" r="2.7"/><circle cx="446.01" cy="1050.22" r="2.7"/><circle cx="432.14" cy="1042.87" r="2.7"/><circle cx="414.08" cy="1049.11" r="2.7"/><circle cx="440.69" cy="1040.87" r="2.7"/><circle cx="409.68" cy="1047.53" r="2.7"/><circle cx="420.95" cy="1049.21" r="2.7"/><circle cx="455.28" cy="1052.03" r="2.7"/><circle cx="424.25" cy="1048.32" r="2.7"/><circle cx="480.11" cy="1049.15" r="2.7"/><circle cx="447.63" cy="1042.05" r="2.7"/><circle cx="433.68" cy="1046.74" r="2.7"/><circle cx="415.61" cy="1051.08" r="2.7"/><circle cx="424.59" cy="1047.52" r="2.7"/><circle cx="408.37" cy="1043.08" r="2.7"/><circle cx="452.72" cy="1048.8" r="2.7"/><circle cx="415.06" cy="1044.96" r="2.7"/><circle cx="441.32" cy="1042.09" r="2.7"/><circle cx="429.54" cy="1042.53" r="2.7"/><circle cx="423.42" cy="1048.94" r="2.7"/><circle cx="416.57" cy="1042.46" r="2.7"/><circle cx="437.3" cy="1042.05" r="2.7"/><circle cx="408.8" cy="1052.32" r="2.7"/><circle cx="413.6" cy="1045.45" r="2.7"/><circle cx="459.56" cy="1050.13" r="2.7"/><circle cx="446.29" cy="1046.26" r="2.7"/><circle cx="435.37" cy="1049.67" r="2.7"/><circle cx="438.65" cy="1043.4" r="2.7"/><circle cx="446.48" cy="1043.97" r="2.7"/><circle cx="425.97" cy="1039.51" r="2.7"/><circle cx="434.85" cy="1040.05" r="2.7"/><circle cx="423.24" cy="1048.82" r="2.7"/><circle cx="431.45" cy="1044.01" r="2.7"/><circle cx="412.32" cy="1041.87" r="2.7"/><circle cx="412.94" cy="1041.94" r="2.7"/><circle cx="426.61" cy="1052.31" r="2.7"/><circle cx="462.75" cy="1050.24" r="2.7"/><circle cx="488.21" cy="1050.9" r="2.7"/><circle cx="415.78" cy="1048.95" r="2.7"/><circle cx="429.15" cy="1050.51" r="2.7"/><circle cx="422.74" cy="1048.47" r="2.7"/><circle cx="448.11" cy="1051.75" r="2.7"/><circle cx="460.94" cy="1044.35" r="2.7"/><circle cx="423.63" cy="1044.51" r="2.7"/><circle cx="427.31" cy="1051.69" r="2.7"/><circle cx="441.71" cy="1042.96" r="2.7"/><circle cx="470.32" cy="1049.34" r="2.7"/><circle cx="433.91" cy="1043.97" r="2.7"/><circle cx="423.6" cy="1045.38" r="2.7"/><circle cx="421.52" cy="1041.59" r="2.7"/><circle cx="425.94" cy="1048.02" r="2.7"/><circle cx="419.2" cy="1050.33" r="2.7"/><circle cx="430.51" cy="1048.17" r="2.7"/><circle cx="419.24" cy="1043.28" r="2.7"/><circle cx="455.07" cy="1046.04" r="2.7"/><circle cx="455.26" cy="1045.05" r="2.7"/><circle cx="410.84" cy="1042.71" r="2.7"/><circle cx="427.31" cy="1044.93" r="2.7"/><circle cx="416.41" cy="1048.44" r="2.7"/><circle cx="419.53" cy="1040.85" r="2.7"/><circle cx="441.06" cy="1046.87" r="2.7"/><circle cx="422.77" cy="1052.05" r="2.7"/><circle cx="485.37" cy="1052.01" r="2.7"/><circle cx="458.04" cy="1050.16" r="2.7"/><circle cx="464" cy="1049.4" r="2.7"/><circle cx="428.16" cy="1044.67" r="2.7"/><circle cx="468.99" cy="1049.58" r="2.7"/><circle cx="416.97" cy="1050.15" r="2.7"/><circle cx="461.36" cy="1049.9" r="2.7"/><circle cx="421.68" cy="1048.49" r="2.7"/><circle cx="473.99" cy="1049.95" r="2.7"/><circle cx="427.21" cy="1052.44" r="2.7"/><circle cx="450.12" cy="1052.8" r="2.7"/><circle cx="444.96" cy="1044.32" r="2.7"/><circle cx="463.26" cy="1051.09" r="2.7"/><circle cx="419.73" cy="1042.32" r="2.7"/><circle cx="422.8" cy="1040.14" r="2.7"/><circle cx="410.59" cy="1045.91" r="2.7"/><circle cx="431.79" cy="1039.99" r="2.7"/><circle cx="433.11" cy="1044.73" r="2.7"/><circle cx="467.28" cy="1050.23" r="2.7"/><circle cx="432.14" cy="1047.92" r="2.7"/><circle cx="439.46" cy="1051.67" r="2.7"/><circle cx="423.96" cy="1044.29" r="2.7"/><circle cx="431.5" cy="1043" r="2.7"/><circle cx="408.31" cy="1046.62" r="2.7"/><circle cx="475.46" cy="1050.57" r="2.7"/><circle cx="445.51" cy="1051.79" r="2.7"/><circle cx="426.88" cy="1051.8" r="2.7"/><circle cx="456.18" cy="1051.85" r="2.7"/><circle cx="485.79" cy="1052.47" r="2.7"/><circle cx="411.07" cy="1045.53" r="2.7"/><circle cx="471.67" cy="1050.17" r="2.7"/><circle cx="426.76" cy="1043.94" r="2.7"/><circle cx="476.24" cy="1048.5" r="2.7"/><circle cx="428.92" cy="1041.87" r="2.7"/><circle cx="424.97" cy="1044.03" r="2.7"/><circle cx="423.58" cy="1045.62" r="2.7"/><circle cx="413.45" cy="1042.54" r="2.7"/><circle cx="410.27" cy="1050.17" r="2.7"/><circle cx="442.22" cy="1051.83" r="2.7"/><circle cx="422.29" cy="1052.46" r="2.7"/><circle cx="428.23" cy="1052.27" r="2.7"/><circle cx="412.55" cy="1041.95" r="2.7"/><circle cx="433.42" cy="1044.56" r="2.7"/><circle cx="442.24" cy="1040.67" r="2.7"/><circle cx="461.1" cy="1044.95" r="2.7"/><circle cx="438.36" cy="1049.71" r="2.7"/><circle cx="448.6" cy="1049.7" r="2.7"/><circle cx="467.48" cy="1048.99" r="2.7"/><circle cx="470.66" cy="1052.52" r="2.7"/><circle cx="437.07" cy="1049.09" r="2.7"/><circle cx="479.97" cy="1052.79" r="2.7"/><circle cx="419.52" cy="1039.28" r="2.7"/><circle cx="414.87" cy="1050.29" r="2.7"/><circle cx="462.36" cy="1049.98" r="2.7"/><circle cx="409.6" cy="1044.11" r="2.7"/><circle cx="459.13" cy="1049.95" r="2.7"/><circle cx="412.79" cy="1046.46" r="2.7"/><circle cx="425.5" cy="1039.19" r="2.7"/><circle cx="445.74" cy="1043.6" r="2.7"/><circle cx="416.58" cy="1041.21" r="2.7"/><circle cx="460.31" cy="1052.28" r="2.7"/><circle cx="486.61" cy="1050.81" r="2.7"/><circle cx="419.7" cy="1040.55" r="2.7"/><circle cx="425.56" cy="1051.4" r="2.7"/><circle cx="407.36" cy="1045.64" r="2.7"/><circle cx="436.35" cy="1051.65" r="2.7"/><circle cx="439.91" cy="1047.65" r="2.7"/><circle cx="432.13" cy="1052.31" r="2.7"/><circle cx="422.74" cy="1047.34" r="2.7"/><circle cx="414.38" cy="1048.75" r="2.7"/><circle cx="420.11" cy="1045.82" r="2.7"/><circle cx="408.92" cy="1045.89" r="2.7"/><circle cx="416.88" cy="1051.35" r="2.7"/><circle cx="426.05" cy="1043.42" r="2.7"/><circle cx="415.04" cy="1049.85" r="2.7"/><circle cx="440.43" cy="1050.44" r="2.7"/><circle cx="424.37" cy="1041.26" r="2.7"/><circle cx="435" cy="1044.79" r="2.7"/><circle cx="437.11" cy="1042.82" r="2.7"/><circle cx="428.21" cy="1040.69" r="2.7"/><circle cx="451.33" cy="1045.02" r="2.7"/><circle cx="424.76" cy="1044.62" r="2.7"/><circle cx="460.05" cy="1049.52" r="2.7"/><circle cx="451.63" cy="1045.37" r="2.7"/><circle cx="444.54" cy="1041.15" r="2.7"/><circle cx="420.72" cy="1042.29" r="2.7"/><circle cx="444.09" cy="1051.36" r="2.7"/><circle cx="426.83" cy="1042.62" r="2.7"/><circle cx="435.95" cy="1040.17" r="2.7"/><circle cx="446.05" cy="1046.79" r="2.7"/><circle cx="470.49" cy="1050.28" r="2.7"/><circle cx="472.5" cy="1048.49" r="2.7"/><circle cx="437.25" cy="1052.22" r="2.7"/><circle cx="448.32" cy="1045.23" r="2.7"/><circle cx="436.02" cy="1039.95" r="2.7"/><circle cx="428.72" cy="1040.13" r="2.7"/><circle cx="421.67" cy="1045.28" r="2.7"/><circle cx="457.68" cy="1045.56" r="2.7"/><circle cx="444.29" cy="1042.72" r="2.7"/><circle cx="428.91" cy="1044.42" r="2.7"/><circle cx="418.93" cy="1049.04" r="2.7"/><circle cx="440.37" cy="1047.63" r="2.7"/><circle cx="439.47" cy="1040.09" r="2.7"/><circle cx="465.34" cy="1047.85" r="2.7"/><circle cx="420.58" cy="1045.14" r="2.7"/><circle cx="435.17" cy="1049.36" r="2.7"/><circle cx="412.79" cy="1046.66" r="2.7"/><circle cx="448.75" cy="1049.99" r="2.7"/><circle cx="416.77" cy="1042.87" r="2.7"/><circle cx="427.49" cy="1046.95" r="2.7"/><circle cx="426.46" cy="1042.58" r="2.7"/><circle cx="475.71" cy="1050.98" r="2.7"/><circle cx="432.04" cy="1039.96" r="2.7"/><circle cx="424.92" cy="1040.55" r="2.7"/><circle cx="467.94" cy="1052.15" r="2.7"/><circle cx="427.02" cy="1050.19" r="2.7"/><circle cx="421.27" cy="1040.31" r="2.7"/><circle cx="439.23" cy="1046.06" r="2.7"/><circle cx="454.57" cy="1044.82" r="2.7"/><circle cx="436.94" cy="1043.25" r="2.7"/><circle cx="448.52" cy="1046.05" r="2.7"/><circle cx="480.92" cy="1049.66" r="2.7"/><circle cx="409.93" cy="1043.58" r="2.7"/><circle cx="427.2" cy="1046.85" r="2.7"/><circle cx="421.17" cy="1043.63" r="2.7"/><circle cx="429.66" cy="1050.1" r="2.7"/><circle cx="432.62" cy="1043.71" r="2.7"/><circle cx="423.38" cy="1046.85" r="2.7"/><circle cx="417.94" cy="1046.07" r="2.7"/><circle cx="438.85" cy="1050.79" r="2.7"/><circle cx="463.87" cy="1047.74" r="2.7"/><circle cx="481" cy="1049.67" r="2.7"/><circle cx="447.4" cy="1049.39" r="2.7"/><circle cx="459" cy="1050.27" r="2.7"/><circle cx="423.8" cy="1044.96" r="2.7"/><circle cx="418.97" cy="1042.53" r="2.7"/><circle cx="431.1" cy="1041.99" r="2.7"/><circle cx="416.49" cy="1047.33" r="2.7"/><circle cx="438.09" cy="1050.49" r="2.7"/><circle cx="410.42" cy="1041.65" r="2.7"/><circle cx="444.56" cy="1050.84" r="2.7"/><circle cx="475.47" cy="1048.57" r="2.7"/><circle cx="443.15" cy="1048.45" r="2.7"/><circle cx="476.6" cy="1048.42" r="2.7"/><circle cx="463.3" cy="1052.63" r="2.7"/><circle cx="471.73" cy="1048.3" r="2.7"/><circle cx="409.33" cy="1041.58" r="2.7"/><circle cx="440.61" cy="1043.68" r="2.7"/><circle cx="474.66" cy="1051.42" r="2.7"/><circle cx="428.84" cy="1040.35" r="2.7"/><circle cx="412.16" cy="1045.2" r="2.7"/><circle cx="476.89" cy="1051.56" r="2.7"/><circle cx="480.07" cy="1052.6" r="2.7"/><circle cx="470.41" cy="1048.34" r="2.7"/><circle cx="452.02" cy="1047.97" r="2.7"/><circle cx="463.79" cy="1052.14" r="2.7"/><circle cx="417.61" cy="1042.83" r="2.7"/><circle cx="423.96" cy="1039.3" r="2.7"/><circle cx="427.93" cy="1045.28" r="2.7"/><circle cx="433.52" cy="1043.77" r="2.7"/><circle cx="420.56" cy="1045.93" r="2.7"/><circle cx="429.6" cy="1050.76" r="2.7"/><circle cx="422.54" cy="1045.05" r="2.7"/><circle cx="442.44" cy="1040.47" r="2.7"/><circle cx="425.28" cy="1043.6" r="2.7"/><circle cx="436.42" cy="1048.4" r="2.7"/><circle cx="423.45" cy="1047.12" r="2.7"/><circle cx="459.62" cy="1049.37" r="2.7"/><circle cx="451.45" cy="1049.7" r="2.7"/><circle cx="450.19" cy="1052.47" r="2.7"/><circle cx="469.12" cy="1051.45" r="2.7"/><circle cx="421.34" cy="1048.27" r="2.7"/><circle cx="408.66" cy="1045.15" r="2.7"/><circle cx="446.42" cy="1048.89" r="2.7"/><circle cx="426.26" cy="1046.03" r="2.7"/><circle cx="444.36" cy="1041.44" r="2.7"/><circle cx="422.02" cy="1049.36" r="2.7"/><circle cx="438.04" cy="1049.72" r="2.7"/><circle cx="450.09" cy="1049.5" r="2.7"/><circle cx="407.74" cy="1051.81" r="2.7"/><circle cx="436.78" cy="1046.23" r="2.7"/><circle cx="479.59" cy="1048.78" r="2.7"/><circle cx="433.81" cy="1047.84" r="2.7"/><circle cx="413.58" cy="1044.28" r="2.7"/><circle cx="485.22" cy="1052.78" r="2.7"/><circle cx="452.02" cy="1049.82" r="2.7"/><circle cx="414.94" cy="1050.04" r="2.7"/><circle cx="449.61" cy="1047.1" r="2.7"/><circle cx="412.34" cy="1049.36" r="2.7"/><circle cx="413.75" cy="1048.79" r="2.7"/><circle cx="447.67" cy="1051.92" r="2.7"/><circle cx="457.66" cy="1046.72" r="2.7"/><circle cx="458.31" cy="1046.66" r="2.7"/><circle cx="409.49" cy="1042.58" r="2.7"/><circle cx="477.08" cy="1052.77" r="2.7"/><circle cx="485.71" cy="1052.79" r="2.7"/><circle cx="434.73" cy="1050.86" r="2.7"/><circle cx="435.82" cy="1046.02" r="2.7"/><circle cx="413.3" cy="1048.56" r="2.7"/><circle cx="428.78" cy="1047.22" r="2.7"/><circle cx="409.71" cy="1047.57" r="2.7"/><circle cx="427.47" cy="1045.23" r="2.7"/><circle cx="487.37" cy="1051.4" r="2.7"/><circle cx="446.38" cy="1044.02" r="2.7"/><circle cx="440.66" cy="1039.48" r="2.7"/><circle cx="427.97" cy="1047.9" r="2.7"/><circle cx="409.39" cy="1048.61" r="2.7"/><circle cx="406.56" cy="1050.94" r="2.7"/><circle cx="411.12" cy="1052.57" r="2.7"/><circle cx="407.4" cy="1050.74" r="2.7"/><circle cx="407.6" cy="1048.65" r="2.7"/><circle cx="405.88" cy="1051.42" r="2.7"/><circle cx="409.21" cy="1051.36" r="2.7"/><circle cx="411.15" cy="1048.86" r="2.7"/><circle cx="408.76" cy="1045.89" r="2.7"/><circle cx="411.21" cy="1045.83" r="2.7"/><circle cx="407.03" cy="1052.2" r="2.7"/><circle cx="409.2" cy="1052.71" r="2.7"/><circle cx="410.97" cy="1046.15" r="2.7"/><circle cx="407.96" cy="1046.45" r="2.7"/><circle cx="406.33" cy="1047.71" r="2.7"/><circle cx="408.48" cy="1046.44" r="2.7"/><circle cx="407.83" cy="1048.26" r="2.7"/><circle cx="408.71" cy="1052.24" r="2.7"/><circle cx="410.97" cy="1046.68" r="2.7"/><circle cx="410.39" cy="1050.06" r="2.7"/><circle cx="406.1" cy="1049.05" r="2.7"/><circle cx="408.5" cy="1052.67" r="2.7"/><circle cx="409.53" cy="1045.68" r="2.7"/><circle cx="408.86" cy="1051.41" r="2.7"/><circle cx="405.68" cy="1052.3" r="2.7"/><circle cx="410.25" cy="1050.66" r="2.7"/><circle cx="443.82" cy="1031.78" r="2.7"/><circle cx="454.66" cy="1043.17" r="2.7"/><circle cx="462.43" cy="1015.09" r="2.7"/><circle cx="449.95" cy="1034.08" r="2.7"/><circle cx="429.62" cy="1022.81" r="2.7"/><circle cx="427.53" cy="1033.93" r="2.7"/><circle cx="418.63" cy="1029.85" r="2.7"/><circle cx="447.85" cy="1035.17" r="2.7"/><circle cx="449.54" cy="1038.25" r="2.7"/><circle cx="423.04" cy="1036.11" r="2.7"/><circle cx="451.64" cy="1006.73" r="2.7"/><circle cx="437.96" cy="1030.57" r="2.7"/><circle cx="442.04" cy="1032.82" r="2.7"/><circle cx="454.75" cy="1039.23" r="2.7"/><circle cx="464.16" cy="1041.98" r="2.7"/><circle cx="431.57" cy="1000.45" r="2.7"/><circle cx="424.55" cy="1034.9" r="2.7"/><circle cx="441.48" cy="1031.79" r="2.7"/><circle cx="428.68" cy="1028.65" r="2.7"/><circle cx="451.14" cy="1037.47" r="2.7"/><circle cx="423.46" cy="1029.72" r="2.7"/><circle cx="470.89" cy="1039.72" r="2.7"/><circle cx="464.74" cy="1045.53" r="2.7"/><circle cx="439.77" cy="1009.97" r="2.7"/><circle cx="446.09" cy="1038.91" r="2.7"/><circle cx="423.8" cy="1035.42" r="2.7"/><circle cx="429.13" cy="1004.55" r="2.7"/><circle cx="472.92" cy="1037.08" r="2.7"/><circle cx="431.99" cy="1036.03" r="2.7"/><circle cx="429.82" cy="1017.44" r="2.7"/><circle cx="428.91" cy="1037.7" r="2.7"/><circle cx="444.17" cy="1038.89" r="2.7"/><circle cx="453.79" cy="1038.73" r="2.7"/><circle cx="454.8" cy="1031.7" r="2.7"/><circle cx="449.48" cy="1041.97" r="2.7"/><circle cx="443.96" cy="1036.63" r="2.7"/><circle cx="448.18" cy="1043.02" r="2.7"/><circle cx="474.83" cy="1030.59" r="2.7"/><circle cx="437.92" cy="1035.68" r="2.7"/><circle cx="433.91" cy="1036.85" r="2.7"/><circle cx="437.57" cy="1019.35" r="2.7"/><circle cx="452.85" cy="1041.92" r="2.7"/><circle cx="432.29" cy="1033.31" r="2.7"/><circle cx="427.18" cy="1036.35" r="2.7"/><circle cx="447.67" cy="1029.46" r="2.7"/><circle cx="453.91" cy="1017.03" r="2.7"/><circle cx="444.1" cy="1038.38" r="2.7"/><circle cx="451.38" cy="1042.74" r="2.7"/><circle cx="426.65" cy="1032.5" r="2.7"/><circle cx="433.65" cy="1030.8" r="2.7"/><circle cx="422.24" cy="1033.74" r="2.7"/><circle cx="457.19" cy="1039.3" r="2.7"/><circle cx="462.48" cy="1045.91" r="2.7"/><circle cx="444.12" cy="1036.43" r="2.7"/><circle cx="445.03" cy="1034.5" r="2.7"/><circle cx="451.63" cy="1042.82" r="2.7"/><circle cx="438.31" cy="1037.47" r="2.7"/><circle cx="445.03" cy="1029.5" r="2.7"/><circle cx="470.92" cy="1045.27" r="2.7"/><circle cx="425.68" cy="1001.08" r="2.7"/><circle cx="475.12" cy="1045.56" r="2.7"/><circle cx="433.16" cy="1030.92" r="2.7"/><circle cx="434.85" cy="1036.47" r="2.7"/><circle cx="431.58" cy="1022.27" r="2.7"/><circle cx="436.24" cy="1034.29" r="2.7"/><circle cx="440.24" cy="1031.39" r="2.7"/><circle cx="432.24" cy="1024.61" r="2.7"/><circle cx="441.04" cy="1029.97" r="2.7"/><circle cx="461.49" cy="1042.38" r="2.7"/><circle cx="426.23" cy="1021.23" r="2.7"/><circle cx="421.72" cy="1037.83" r="2.7"/><circle cx="461.53" cy="1024.88" r="2.7"/><circle cx="432.98" cy="1027.66" r="2.7"/><circle cx="429.12" cy="1029.26" r="2.7"/><circle cx="440.2" cy="1027.5" r="2.7"/><circle cx="428.96" cy="1038.32" r="2.7"/><circle cx="424" cy="1038.42" r="2.7"/><circle cx="459.44" cy="1018.19" r="2.7"/><circle cx="468.76" cy="1040.93" r="2.7"/><circle cx="422.65" cy="1025.48" r="2.7"/><circle cx="424.66" cy="1022.4" r="2.7"/><circle cx="479.09" cy="1045.32" r="2.7"/><circle cx="419.28" cy="1038.89" r="2.7"/><circle cx="438.02" cy="1029.95" r="2.7"/><circle cx="444.87" cy="1032.79" r="2.7"/><circle cx="424.76" cy="1037.03" r="2.7"/><circle cx="472.12" cy="1046.75" r="2.7"/><circle cx="433.17" cy="1030.89" r="2.7"/><circle cx="430.77" cy="1037.26" r="2.7"/><circle cx="421.47" cy="1037.61" r="2.7"/><circle cx="457" cy="1033.17" r="2.7"/><circle cx="427.21" cy="1037.52" r="2.7"/><circle cx="436.56" cy="1009.58" r="2.7"/><circle cx="439.86" cy="1034.52" r="2.7"/><circle cx="426.84" cy="1032.98" r="2.7"/><circle cx="451.71" cy="1011.72" r="2.7"/><circle cx="442.94" cy="1031.87" r="2.7"/><circle cx="469.59" cy="1040.62" r="2.7"/><circle cx="419.44" cy="1038.65" r="2.7"/><circle cx="465.31" cy="1046.36" r="2.7"/><circle cx="459.63" cy="1041.25" r="2.7"/><circle cx="432.48" cy="1037.88" r="2.7"/><circle cx="473.45" cy="1035.66" r="2.7"/><circle cx="429.09" cy="1014.47" r="2.7"/><circle cx="420.96" cy="1034.31" r="2.7"/><circle cx="464.48" cy="1035.04" r="2.7"/><circle cx="445.41" cy="1036.01" r="2.7"/><circle cx="439.76" cy="1029.64" r="2.7"/><circle cx="478.63" cy="1044.35" r="2.7"/><circle cx="434.03" cy="1015.92" r="2.7"/><circle cx="448.64" cy="1037.55" r="2.7"/><circle cx="432.26" cy="1035.05" r="2.7"/><circle cx="431.15" cy="1031.46" r="2.7"/><circle cx="424.3" cy="999.01" r="2.7"/><circle cx="471.86" cy="1040.61" r="2.7"/></g>
<path d="M277 1060.9 L272 1055.2 L280 1052.2 L368 1052.2 L375.53 1052.2 L377.53 1048.2 L380.03 1048.2 Q386.5 1054.2 391.7 1054.6 Q396.9 1054.2 403.37 1048.2 L405.87 1048.2 L407.87 1052.2 L498 1052.2 L508 1055.2 L505 1060.9 Z" fill="#a3a3a3"/>
<g fill="#a3a3a3"><circle cx="518.7" cy="1054.8" r="2.7"/><circle cx="525.6" cy="1055.3" r="2.7"/><circle cx="540.2" cy="1056.6" r="2.7"/><circle cx="511" cy="1055.5" r="2.7"/><circle cx="270" cy="1056.8" r="2.7"/><circle cx="266" cy="1055" r="2.7"/></g>
<line x1="379.53" y1="1079.8" x2="379.53" y2="597.2" stroke="#1a1a1a" stroke-width="1.8" stroke-dasharray="9.2 4.26"/>
<line x1="403.87" y1="1079.8" x2="403.87" y2="597.2" stroke="#1a1a1a" stroke-width="1.8" stroke-dasharray="9.2 4.26"/>
<line x1="111.5" y1="1054.4" x2="672.3" y2="1054.4" stroke="#1a1a1a" stroke-width="1.8" stroke-dasharray="9.2 4.26"/>
<line x1="225.3" y1="1079.8" x2="225.3" y2="1083.2" stroke="#333" stroke-width="1.1"/>
<text transform="translate(218.18 1098.3) scale(1.0000 1)" font-family='"Liberation Sans", Arial, sans-serif' font-size="16" fill="#4d4d4d">-8</text>
<line x1="308.5" y1="1079.8" x2="308.5" y2="1083.2" stroke="#333" stroke-width="1.1"/>
<text transform="translate(301.26 1098.3) scale(1.0000 1)" font-family='"Liberation Sans", Arial, sans-serif' font-size="16" fill="#4d4d4d">-4</text>
<line x1="350.1" y1="1079.8" x2="350.1" y2="1083.2" stroke="#333" stroke-width="1.1"/>
<text transform="translate(343.02 1098.3) scale(1.0000 1)" font-family='"Liberation Sans", Arial, sans-serif' font-size="16" fill="#4d4d4d">-2</text>
<line x1="391.7" y1="1079.8" x2="391.7" y2="1083.2" stroke="#333" stroke-width="1.1"/>
<text transform="translate(387.26 1098.3) scale(1.0000 1)" font-family='"Liberation Sans", Arial, sans-serif' font-size="16" fill="#4d4d4d">0</text>
<line x1="433.3" y1="1079.8" x2="433.3" y2="1083.2" stroke="#333" stroke-width="1.1"/>
<text transform="translate(428.82 1098.3) scale(1.0000 1)" font-family='"Liberation Sans", Arial, sans-serif' font-size="16" fill="#4d4d4d">2</text>
<line x1="474.9" y1="1079.8" x2="474.9" y2="1083.2" stroke="#333" stroke-width="1.1"/>
<text transform="translate(470.5 1098.3) scale(1.0000 1)" font-family='"Liberation Sans", Arial, sans-serif' font-size="16" fill="#4d4d4d">4</text>
<line x1="558.1" y1="1079.8" x2="558.1" y2="1083.2" stroke="#333" stroke-width="1.1"/>
<text transform="translate(553.66 1098.3) scale(1.0000 1)" font-family='"Liberation Sans", Arial, sans-serif' font-size="16" fill="#4d4d4d">8</text>
<line x1="108.1" y1="1058.1" x2="111.5" y2="1058.1" stroke="#333" stroke-width="1.1"/>
<text transform="translate(95.68 1063.7) scale(1.0000 1)" font-family='"Liberation Sans", Arial, sans-serif' font-size="16" fill="#4d4d4d">0</text>
<line x1="108.1" y1="904.1" x2="111.5" y2="904.1" stroke="#333" stroke-width="1.1"/>
<text transform="translate(86.8 909.7) scale(1.0000 1)" font-family='"Liberation Sans", Arial, sans-serif' font-size="16" fill="#4d4d4d">50</text>
<line x1="108.1" y1="750.1" x2="111.5" y2="750.1" stroke="#333" stroke-width="1.1"/>
<text transform="translate(77.92 755.7) scale(1.0000 1)" font-family='"Liberation Sans", Arial, sans-serif' font-size="16" fill="#4d4d4d">100</text>
<rect x="111.5" y="597.2" width="560.8" height="482.6" fill="none" stroke="#8a8a8a" stroke-width="1.6"/>
<text transform="translate(305.78 1118.7) scale(1.0054 1)" font-family='"Liberation Sans", Arial, sans-serif' font-size="20.2" fill="#000">Log<tspan font-size="14.1" dy="4.2">2</tspan><tspan dy="-4.2">(Fold Change)</tspan></text>
<text transform="translate(66 899.63) rotate(-90) scale(1.0215 1)" font-family='"Liberation Sans", Arial, sans-serif' font-size="20.2" fill="#000">− Log<tspan font-size="14.1" dy="4.2">10</tspan><tspan dy="-4.2">(FDR)</tspan></text>
<text transform="translate(692.89 807.7) scale(1.0016 1)" font-family='"Liberation Sans", Arial, sans-serif' font-size="20.3" fill="#000">Statistics</text>
<circle cx="704.1" cy="831.1" r="2.9" fill="#b41a30"/>
<text transform="translate(724.26 836.4) scale(1.0026 1)" font-family='"Liberation Sans", Arial, sans-serif' font-size="16.5" fill="#000">Up: 978</text>
<circle cx="704.1" cy="852.8" r="2.9" fill="#2368ae"/>
<text transform="translate(724.16 858) scale(1.0115 1)" font-family='"Liberation Sans", Arial, sans-serif' font-size="16.5" fill="#000">Down: 1191</text>
<circle cx="704.1" cy="874.5" r="2.9" fill="#a3a3a3"/>
<text transform="translate(724.02 879.7) scale(0.9971 1)" font-family='"Liberation Sans", Arial, sans-serif' font-size="16.5" fill="#000">Insignificant: 18588</text>
<text transform="translate(0.65 631.2) scale(1.0390 1)" font-family='"Liberation Serif", "Times New Roman", serif' font-size="63" font-weight="bold" fill="#000">C</text>
</g>
<g id="panelD">
<circle cx="1208.7" cy="852.6" r="206.6" fill="#dd98dd"/>
<circle cx="1415.3" cy="852.6" r="206.6" fill="#64b0ff"/>
<path d="M1312 673.68 A206.6 206.6 0 0 1 1312 1031.52 A206.6 206.6 0 0 1 1312 673.68 Z" fill="#5a90f3"/>
<circle cx="1208.7" cy="852.6" r="206.6" fill="none" stroke="#000" stroke-width="2.3"/>
<circle cx="1415.3" cy="852.6" r="206.6" fill="none" stroke="#000" stroke-width="2.3"/>
<text transform="translate(1141.51 622) scale(1.0006 1)" font-family='"Liberation Sans", Arial, sans-serif' font-size="17.7" fill="#d56fd2">ILW-H_vs_Model</text>
<text transform="translate(1344.28 622) scale(1.0001 1)" font-family='"Liberation Sans", Arial, sans-serif' font-size="17.7" fill="#2f8ff2">Model_vs_Control</text>
<text transform="translate(1075.59 861.8) scale(1.0379 1)" font-family='"Liberation Sans", Arial, sans-serif' font-size="25.8" fill="#3a3a3a">1998</text>
<text transform="translate(1289.82 861.8) scale(1.0236 1)" font-family='"Liberation Sans", Arial, sans-serif' font-size="25.8" fill="#3a3a3a">171</text>
<text transform="translate(1496.39 861.8) scale(1.0386 1)" font-family='"Liberation Sans", Arial, sans-serif' font-size="25.8" fill="#3a3a3a">172</text>
<text transform="translate(902.01 635.8) scale(1.0438 1)" font-family='"Liberation Serif", "Times New Roman", serif' font-size="63" font-weight="bold" fill="#000">D</text>
</g>
<g id="panelE">
<path d="M173.9 1707.9 L173.9 1395.83 Q173.9 1392.83 176.9 1392.83 L224.5 1392.83 Q227.5 1392.83 227.5 1395.83 L227.5 1707.9 Z" fill="#ff8080"/>
<text transform="translate(173.47 1381.4) scale(1.0110 1)" font-family='"Liberation Serif", "Times New Roman", serif' font-size="25.5" fill="#000">2169</text>
<path d="M247.3 1707.9 L247.3 1568.29 Q247.3 1565.29 250.3 1565.29 L298.2 1565.29 Q301.2 1565.29 301.2 1568.29 L301.2 1707.9 Z" fill="#ffa040"/>
<text transform="translate(253.84 1555.1) scale(0.9920 1)" font-family='"Liberation Serif", "Times New Roman", serif' font-size="25.5" fill="#000">978</text>
<path d="M320.6 1707.9 L320.6 1537.44 Q320.6 1534.44 323.6 1534.44 L371.8 1534.44 Q374.8 1534.44 374.8 1537.44 L374.8 1707.9 Z" fill="#c0c000"/>
<text transform="translate(324.68 1523.7) scale(0.9761 1)" font-family='"Liberation Serif", "Times New Roman", serif' font-size="25.5" fill="#000">1191</text>
<path d="M444.6 1707.9 L444.6 1660.23 Q444.6 1657.23 447.6 1657.23 L495.3 1657.23 Q498.3 1657.23 498.3 1660.23 L498.3 1707.9 Z" fill="#ff8080"/>
<text transform="translate(451.97 1648.2) scale(0.9887 1)" font-family='"Liberation Serif", "Times New Roman", serif' font-size="25.5" fill="#000">343</text>
<path d="M518.1 1707.9 L518.1 1692.09 Q518.1 1689.09 521.1 1689.09 L569.1 1689.09 Q572.1 1689.09 572.1 1692.09 L572.1 1707.9 Z" fill="#ffa040"/>
<text transform="translate(524.77 1677.3) scale(0.9378 1)" font-family='"Liberation Serif", "Times New Roman", serif' font-size="25.5" fill="#000">123</text>
<path d="M591.8 1707.9 L591.8 1678.04 Q591.8 1675.04 594.8 1675.04 L642.8 1675.04 Q645.8 1675.04 645.8 1678.04 L645.8 1707.9 Z" fill="#c0c000"/>
<text transform="translate(598.94 1663.2) scale(1.0375 1)" font-family='"Liberation Serif", "Times New Roman", serif' font-size="25.5" fill="#000">220</text>
<line x1="139.6" y1="1346.9" x2="139.6" y2="1710" stroke="#000" stroke-width="3.1"/>
<line x1="128.9" y1="1708.5" x2="682" y2="1708.5" stroke="#000" stroke-width="3.1" stroke-linecap="round"/>
<line x1="128.9" y1="1348.4" x2="139.6" y2="1348.4" stroke="#000" stroke-width="3.1"/>
<text transform="translate(75.56 1356) scale(1.0000 1)" font-family='"Liberation Serif", "Times New Roman", serif' font-size="24.5" font-weight="bold" fill="#000">2500</text>
<line x1="128.9" y1="1420.2" x2="139.6" y2="1420.2" stroke="#000" stroke-width="3.1"/>
<text transform="translate(75.56 1427.8) scale(1.0000 1)" font-family='"Liberation Serif", "Times New Roman", serif' font-size="24.5" font-weight="bold" fill="#000">2000</text>
<line x1="128.9" y1="1492.6" x2="139.6" y2="1492.6" stroke="#000" stroke-width="3.1"/>
<text transform="translate(75.56 1500.2) scale(1.0000 1)" font-family='"Liberation Serif", "Times New Roman", serif' font-size="24.5" font-weight="bold" fill="#000">1500</text>
<line x1="128.9" y1="1564.8" x2="139.6" y2="1564.8" stroke="#000" stroke-width="3.1"/>
<text transform="translate(75.56 1572.4) scale(1.0000 1)" font-family='"Liberation Serif", "Times New Roman", serif' font-size="24.5" font-weight="bold" fill="#000">1000</text>
<line x1="128.9" y1="1636.6" x2="139.6" y2="1636.6" stroke="#000" stroke-width="3.1"/>
<text transform="translate(87.81 1644.2) scale(1.0000 1)" font-family='"Liberation Serif", "Times New Roman", serif' font-size="24.5" font-weight="bold" fill="#000">500</text>
<line x1="128.9" y1="1708.4" x2="139.6" y2="1708.4" stroke="#000" stroke-width="3.1"/>
<text transform="translate(112.31 1716) scale(1.0000 1)" font-family='"Liberation Serif", "Times New Roman", serif' font-size="24.5" font-weight="bold" fill="#000">0</text>
<line x1="274.5" y1="1708.5" x2="274.5" y2="1719" stroke="#000" stroke-width="3.1" stroke-linecap="round"/>
<line x1="545.8" y1="1708.5" x2="545.8" y2="1719" stroke="#000" stroke-width="3.1" stroke-linecap="round"/>
<text transform="translate(283.1 1746.2) rotate(-45)" text-anchor="end" font-family='"Liberation Serif", "Times New Roman", serif' font-size="25.4" font-weight="bold" fill="#000">ILW-H vs. Model</text>
<text transform="translate(553.8 1746.2) rotate(-45)" text-anchor="end" font-family='"Liberation Serif", "Times New Roman", serif' font-size="25.4" font-weight="bold" fill="#000">Model vs. Control</text>
<rect x="697.1" y="1360.1" width="44.3" height="25.2" rx="3" ry="3" fill="#ff8080"/>
<text transform="translate(761.15 1383.1) scale(1.0068 1)" font-family='"Liberation Serif", "Times New Roman", serif' font-size="29.6" fill="#000">Total</text>
<rect x="697.1" y="1401.6" width="44.3" height="25.2" rx="3" ry="3" fill="#ffa040"/>
<text transform="translate(761 1424.6) scale(1.0121 1)" font-family='"Liberation Serif", "Times New Roman", serif' font-size="29.6" fill="#000">Up</text>
<rect x="697.1" y="1443.1" width="44.3" height="25.2" rx="3" ry="3" fill="#c0c000"/>
<text transform="translate(760.86 1466.1) scale(1.0002 1)" font-family='"Liberation Serif", "Times New Roman", serif' font-size="29.6" fill="#000">Down</text>
<text transform="translate(1.35 1218) scale(1.0075 1)" font-family='"Liberation Serif", "Times New Roman", serif' font-size="63" font-weight="bold" fill="#000">E</text>
</g>
<g id="panelF">
<g transform="translate(886 0) scale(1.126 1)">
<rect x="286.94" y="1154.7" width="328.86" height="882.6" fill="#fff" stroke="none" stroke-width="1"/>
<line x1="286.94" y1="1170.1" x2="615.81" y2="1170.1" stroke="#ebebeb" stroke-width="1.1"/>
<line x1="286.94" y1="1195.93" x2="615.81" y2="1195.93" stroke="#ebebeb" stroke-width="1.1"/>
<line x1="286.94" y1="1221.76" x2="615.81" y2="1221.76" stroke="#ebebeb" stroke-width="1.1"/>
<line x1="286.94" y1="1247.59" x2="615.81" y2="1247.59" stroke="#ebebeb" stroke-width="1.1"/>
<line x1="286.94" y1="1273.42" x2="615.81" y2="1273.42" stroke="#ebebeb" stroke-width="1.1"/>
<line x1="286.94" y1="1299.25" x2="615.81" y2="1299.25" stroke="#ebebeb" stroke-width="1.1"/>
<line x1="286.94" y1="1325.08" x2="615.81" y2="1325.08" stroke="#ebebeb" stroke-width="1.1"/>
<line x1="286.94" y1="1350.91" x2="615.81" y2="1350.91" stroke="#ebebeb" stroke-width="1.1"/>
<line x1="286.94" y1="1376.74" x2="615.81" y2="1376.74" stroke="#ebebeb" stroke-width="1.1"/>
<line x1="286.94" y1="1402.57" x2="615.81" y2="1402.57" stroke="#ebebeb" stroke-width="1.1"/>
<line x1="286.94" y1="1428.4" x2="615.81" y2="1428.4" stroke="#ebebeb" stroke-width="1.1"/>
<line x1="286.94" y1="1454.23" x2="615.81" y2="1454.23" stroke="#ebebeb" stroke-width="1.1"/>
<line x1="286.94" y1="1480.06" x2="615.81" y2="1480.06" stroke="#ebebeb" stroke-width="1.1"/>
<line x1="286.94" y1="1505.89" x2="615.81" y2="1505.89" stroke="#ebebeb" stroke-width="1.1"/>
<line x1="286.94" y1="1531.72" x2="615.81" y2="1531.72" stroke="#ebebeb" stroke-width="1.1"/>
<line x1="286.94" y1="1557.55" x2="615.81" y2="1557.55" stroke="#ebebeb" stroke-width="1.1"/>
<line x1="286.94" y1="1583.38" x2="615.81" y2="1583.38" stroke="#ebebeb" stroke-width="1.1"/>
<line x1="286.94" y1="1609.21" x2="615.81" y2="1609.21" stroke="#ebebeb" stroke-width="1.1"/>
<line x1="286.94" y1="1635.04" x2="615.81" y2="1635.04" stroke="#ebebeb" stroke-width="1.1"/>
<line x1="286.94" y1="1660.87" x2="615.81" y2="1660.87" stroke="#ebebeb" stroke-width="1.1"/>
<line x1="286.94" y1="1686.7" x2="615.81" y2="1686.7" stroke="#ebebeb" stroke-width="1.1"/>
<line x1="286.94" y1="1712.53" x2="615.81" y2="1712.53" stroke="#ebebeb" stroke-width="1.1"/>
<line x1="286.94" y1="1738.36" x2="615.81" y2="1738.36" stroke="#ebebeb" stroke-width="1.1"/>
<line x1="286.94" y1="1764.19" x2="615.81" y2="1764.19" stroke="#ebebeb" stroke-width="1.1"/>
<line x1="286.94" y1="1790.02" x2="615.81" y2="1790.02" stroke="#ebebeb" stroke-width="1.1"/>
<line x1="286.94" y1="1815.85" x2="615.81" y2="1815.85" stroke="#ebebeb" stroke-width="1.1"/>
<line x1="286.94" y1="1841.68" x2="615.81" y2="1841.68" stroke="#ebebeb" stroke-width="1.1"/>
<line x1="286.94" y1="1867.51" x2="615.81" y2="1867.51" stroke="#ebebeb" stroke-width="1.1"/>
<line x1="286.94" y1="1893.34" x2="615.81" y2="1893.34" stroke="#ebebeb" stroke-width="1.1"/>
<line x1="286.94" y1="1919.17" x2="615.81" y2="1919.17" stroke="#ebebeb" stroke-width="1.1"/>
<line x1="286.94" y1="1945" x2="615.81" y2="1945" stroke="#ebebeb" stroke-width="1.1"/>
<line x1="286.94" y1="1970.83" x2="615.81" y2="1970.83" stroke="#ebebeb" stroke-width="1.1"/>
<line x1="286.94" y1="1996.66" x2="615.81" y2="1996.66" stroke="#ebebeb" stroke-width="1.1"/>
<line x1="286.94" y1="2022.49" x2="615.81" y2="2022.49" stroke="#ebebeb" stroke-width="1.1"/>
<line x1="376.64" y1="1154.7" x2="376.64" y2="2037.3" stroke="#ebebeb" stroke-width="1"/>
<line x1="525.93" y1="1154.7" x2="525.93" y2="2037.3" stroke="#ebebeb" stroke-width="1"/>
<circle cx="376.64" cy="1170.1" r="4.7" fill="#f400d8"/>
<line x1="283.94" y1="1170.1" x2="286.94" y2="1170.1" stroke="#333" stroke-width="0.9"/>
<text x="282.68" y="1174.4" text-anchor="end" font-family='"Liberation Serif", "Times New Roman", serif' font-size="13.4" fill="#000" stroke="#000" stroke-width="0.18">MAPK signaling pathway</text>
<circle cx="376.64" cy="1195.93" r="4.15" fill="#e800f0"/>
<circle cx="525.93" cy="1195.93" r="2.15" fill="#e800f0"/>
<line x1="283.94" y1="1195.93" x2="286.94" y2="1195.93" stroke="#333" stroke-width="0.9"/>
<text x="282.68" y="1200.23" text-anchor="end" font-family='"Liberation Serif", "Times New Roman", serif' font-size="13.4" fill="#000" stroke="#000" stroke-width="0.18">Rap1 signaling pathway</text>
<circle cx="376.64" cy="1221.76" r="3.5" fill="#e800f0"/>
<line x1="283.94" y1="1221.76" x2="286.94" y2="1221.76" stroke="#333" stroke-width="0.9"/>
<text x="282.68" y="1226.06" text-anchor="end" font-family='"Liberation Serif", "Times New Roman", serif' font-size="13.4" fill="#000" stroke="#000" stroke-width="0.18">TNF signaling pathway</text>
<circle cx="376.64" cy="1247.59" r="3.05" fill="#e800f0"/>
<line x1="283.94" y1="1247.59" x2="286.94" y2="1247.59" stroke="#333" stroke-width="0.9"/>
<text x="282.68" y="1251.89" text-anchor="end" font-family='"Liberation Serif", "Times New Roman", serif' font-size="13.4" fill="#000" stroke="#000" stroke-width="0.18">ErbB signaling pathway</text>
<circle cx="376.64" cy="1273.42" r="3.5" fill="#e800f0"/>
<line x1="283.94" y1="1273.42" x2="286.94" y2="1273.42" stroke="#333" stroke-width="0.9"/>
<text x="282.68" y="1277.72" text-anchor="end" font-family='"Liberation Serif", "Times New Roman", serif' font-size="13.4" fill="#000" stroke="#000" stroke-width="0.18">Sphingolipid signaling pathway</text>
<circle cx="376.64" cy="1299.25" r="2.8" fill="#e800f0"/>
<line x1="283.94" y1="1299.25" x2="286.94" y2="1299.25" stroke="#333" stroke-width="0.9"/>
<text x="282.68" y="1303.55" text-anchor="end" font-family='"Liberation Serif", "Times New Roman", serif' font-size="13.4" fill="#000" stroke="#000" stroke-width="0.18">VEGF signaling pathway</text>
<circle cx="376.64" cy="1325.08" r="3.3" fill="#e800f0"/>
<line x1="283.94" y1="1325.08" x2="286.94" y2="1325.08" stroke="#333" stroke-width="0.9"/>
<text x="282.68" y="1329.38" text-anchor="end" font-family='"Liberation Serif", "Times New Roman", serif' font-size="13.4" fill="#000" stroke="#000" stroke-width="0.18">NF−kappa B signaling pathway</text>
<circle cx="376.64" cy="1350.91" r="4.45" fill="#e800f0"/>
<circle cx="525.93" cy="1350.91" r="2.25" fill="#e800f0"/>
<line x1="283.94" y1="1350.91" x2="286.94" y2="1350.91" stroke="#333" stroke-width="0.9"/>
<text x="282.68" y="1355.21" text-anchor="end" font-family='"Liberation Serif", "Times New Roman", serif' font-size="13.4" fill="#000" stroke="#000" stroke-width="0.18">PI3K−Akt signaling pathway</text>
<circle cx="376.64" cy="1376.74" r="3.85" fill="#e800f0"/>
<circle cx="525.93" cy="1376.74" r="2.25" fill="#e800f0"/>
<line x1="283.94" y1="1376.74" x2="286.94" y2="1376.74" stroke="#333" stroke-width="0.9"/>
<text x="282.68" y="1381.04" text-anchor="end" font-family='"Liberation Serif", "Times New Roman", serif' font-size="13.4" fill="#000" stroke="#000" stroke-width="0.18">Calcium signaling pathway</text>
<circle cx="376.64" cy="1402.57" r="2.45" fill="#e800f0"/>
<line x1="283.94" y1="1402.57" x2="286.94" y2="1402.57" stroke="#333" stroke-width="0.9"/>
<text x="282.68" y="1406.87" text-anchor="end" font-family='"Liberation Serif", "Times New Roman", serif' font-size="13.4" fill="#000" stroke="#000" stroke-width="0.18">Hedgehog signaling pathway</text>
<circle cx="376.64" cy="1428.4" r="3.2" fill="#e800f0"/>
<line x1="283.94" y1="1428.4" x2="286.94" y2="1428.4" stroke="#333" stroke-width="0.9"/>
<text x="282.68" y="1432.7" text-anchor="end" font-family='"Liberation Serif", "Times New Roman", serif' font-size="13.4" fill="#000" stroke="#000" stroke-width="0.18">FoxO signaling pathway</text>
<circle cx="376.64" cy="1454.23" r="3.1" fill="#e800f0"/>
<circle cx="525.93" cy="1454.23" r="1.9" fill="#e800f0"/>
<line x1="283.94" y1="1454.23" x2="286.94" y2="1454.23" stroke="#333" stroke-width="0.9"/>
<text x="282.68" y="1458.53" text-anchor="end" font-family='"Liberation Serif", "Times New Roman", serif' font-size="13.4" fill="#000" stroke="#000" stroke-width="0.18">HIF−1 signaling pathway</text>
<circle cx="376.64" cy="1480.06" r="2.95" fill="#e800f0"/>
<line x1="283.94" y1="1480.06" x2="286.94" y2="1480.06" stroke="#333" stroke-width="0.9"/>
<text x="282.68" y="1484.36" text-anchor="end" font-family='"Liberation Serif", "Times New Roman", serif' font-size="13.4" fill="#000" stroke="#000" stroke-width="0.18">TGF−beta signaling pathway</text>
<circle cx="376.64" cy="1505.89" r="3.1" fill="#e800f0"/>
<line x1="283.94" y1="1505.89" x2="286.94" y2="1505.89" stroke="#333" stroke-width="0.9"/>
<text x="282.68" y="1510.19" text-anchor="end" font-family='"Liberation Serif", "Times New Roman", serif' font-size="13.4" fill="#000" stroke="#000" stroke-width="0.18">AMPK signaling pathway</text>
<circle cx="376.64" cy="1531.72" r="2.7" fill="#e800f0"/>
<circle cx="525.93" cy="1531.72" r="1.2" fill="#e800f0"/>
<line x1="283.94" y1="1531.72" x2="286.94" y2="1531.72" stroke="#333" stroke-width="0.9"/>
<text x="282.68" y="1536.02" text-anchor="end" font-family='"Liberation Serif", "Times New Roman", serif' font-size="13.4" fill="#000" stroke="#000" stroke-width="0.18">Phosphatidylinositol signaling system</text>
<circle cx="376.64" cy="1557.55" r="2.15" fill="#e800f0"/>
<line x1="283.94" y1="1557.55" x2="286.94" y2="1557.55" stroke="#333" stroke-width="0.9"/>
<text x="282.68" y="1561.85" text-anchor="end" font-family='"Liberation Serif", "Times New Roman", serif' font-size="13.4" fill="#000" stroke="#000" stroke-width="0.18">Notch signaling pathway</text>
<circle cx="376.64" cy="1583.38" r="3.55" fill="#e800f0"/>
<circle cx="525.93" cy="1583.38" r="2.3" fill="#e800f0"/>
<line x1="283.94" y1="1583.38" x2="286.94" y2="1583.38" stroke="#333" stroke-width="0.9"/>
<text x="282.68" y="1587.68" text-anchor="end" font-family='"Liberation Serif", "Times New Roman", serif' font-size="13.4" fill="#000" stroke="#000" stroke-width="0.18">Purine metabolism</text>
<circle cx="376.64" cy="1609.21" r="1.95" fill="#e800f0"/>
<line x1="283.94" y1="1609.21" x2="286.94" y2="1609.21" stroke="#333" stroke-width="0.9"/>
<text x="282.68" y="1613.51" text-anchor="end" font-family='"Liberation Serif", "Times New Roman", serif' font-size="13.4" fill="#000" stroke="#000" stroke-width="0.18">Mannose type O−glycan biosynthesis</text>
<circle cx="376.64" cy="1635.04" r="2.7" fill="#e800f0"/>
<circle cx="525.93" cy="1635.04" r="1.9" fill="#e800f0"/>
<line x1="283.94" y1="1635.04" x2="286.94" y2="1635.04" stroke="#333" stroke-width="0.9"/>
<text x="282.68" y="1639.34" text-anchor="end" font-family='"Liberation Serif", "Times New Roman", serif' font-size="13.4" fill="#000" stroke="#000" stroke-width="0.18">Glycerolipid metabolism</text>
<circle cx="376.64" cy="1660.87" r="2.75" fill="#e800f0"/>
<line x1="283.94" y1="1660.87" x2="286.94" y2="1660.87" stroke="#333" stroke-width="0.9"/>
<text x="282.68" y="1665.17" text-anchor="end" font-family='"Liberation Serif", "Times New Roman", serif' font-size="13.4" fill="#000" stroke="#000" stroke-width="0.18">Inositol phosphate metabolism</text>
<circle cx="376.64" cy="1686.7" r="2.35" fill="#e800f0"/>
<line x1="283.94" y1="1686.7" x2="286.94" y2="1686.7" stroke="#333" stroke-width="0.9"/>
<text x="282.68" y="1691" text-anchor="end" font-family='"Liberation Serif", "Times New Roman", serif' font-size="13.4" fill="#000" stroke="#000" stroke-width="0.18">Glycine, serine and threonine metabolism</text>
<circle cx="525.93" cy="1712.53" r="2.25" fill="#e800f0"/>
<line x1="283.94" y1="1712.53" x2="286.94" y2="1712.53" stroke="#333" stroke-width="0.9"/>
<text x="282.68" y="1716.83" text-anchor="end" font-family='"Liberation Serif", "Times New Roman", serif' font-size="13.4" fill="#000" stroke="#000" stroke-width="0.18">cGMP−PKG signaling pathway</text>
<circle cx="525.93" cy="1738.36" r="2.2" fill="#e800f0"/>
<line x1="283.94" y1="1738.36" x2="286.94" y2="1738.36" stroke="#333" stroke-width="0.9"/>
<text x="282.68" y="1742.66" text-anchor="end" font-family='"Liberation Serif", "Times New Roman", serif' font-size="13.4" fill="#000" stroke="#000" stroke-width="0.18">Apelin signaling pathway</text>
<circle cx="525.93" cy="1764.19" r="1.9" fill="#e800f0"/>
<line x1="283.94" y1="1764.19" x2="286.94" y2="1764.19" stroke="#333" stroke-width="0.9"/>
<text x="282.68" y="1768.49" text-anchor="end" font-family='"Liberation Serif", "Times New Roman", serif' font-size="13.4" fill="#000" stroke="#000" stroke-width="0.18">Phospholipase D signaling pathway</text>
<circle cx="525.93" cy="1790.02" r="2.1" fill="#e800f0"/>
<line x1="283.94" y1="1790.02" x2="286.94" y2="1790.02" stroke="#333" stroke-width="0.9"/>
<text x="282.68" y="1794.32" text-anchor="end" font-family='"Liberation Serif", "Times New Roman", serif' font-size="13.4" fill="#000" stroke="#000" stroke-width="0.18">cAMP signaling pathway</text>
<circle cx="525.93" cy="1815.85" r="1.8" fill="#e800f0"/>
<line x1="283.94" y1="1815.85" x2="286.94" y2="1815.85" stroke="#333" stroke-width="0.9"/>
<text x="282.68" y="1820.15" text-anchor="end" font-family='"Liberation Serif", "Times New Roman", serif' font-size="13.4" fill="#000" stroke="#000" stroke-width="0.18">Wnt signaling pathway</text>
<circle cx="525.93" cy="1841.68" r="1.8" fill="#e800f0"/>
<line x1="283.94" y1="1841.68" x2="286.94" y2="1841.68" stroke="#333" stroke-width="0.9"/>
<text x="282.68" y="1845.98" text-anchor="end" font-family='"Liberation Serif", "Times New Roman", serif' font-size="13.4" fill="#000" stroke="#000" stroke-width="0.18">JAK−STAT signaling pathway</text>
<circle cx="525.93" cy="1867.51" r="1.95" fill="#e800f0"/>
<line x1="283.94" y1="1867.51" x2="286.94" y2="1867.51" stroke="#333" stroke-width="0.9"/>
<text x="282.68" y="1871.81" text-anchor="end" font-family='"Liberation Serif", "Times New Roman", serif' font-size="13.4" fill="#000" stroke="#000" stroke-width="0.18">Ras signaling pathway</text>
<circle cx="525.93" cy="1893.34" r="2.9" fill="#f2000c"/>
<line x1="283.94" y1="1893.34" x2="286.94" y2="1893.34" stroke="#333" stroke-width="0.9"/>
<text x="282.68" y="1897.64" text-anchor="end" font-family='"Liberation Serif", "Times New Roman", serif' font-size="13.4" fill="#000" stroke="#000" stroke-width="0.18">Arachidonic acid metabolism</text>
<circle cx="525.93" cy="1919.17" r="2.25" fill="#f5127e"/>
<line x1="283.94" y1="1919.17" x2="286.94" y2="1919.17" stroke="#333" stroke-width="0.9"/>
<text x="282.68" y="1923.47" text-anchor="end" font-family='"Liberation Serif", "Times New Roman", serif' font-size="13.4" fill="#000" stroke="#000" stroke-width="0.18">Primary bile acid biosynthesis</text>
<circle cx="525.93" cy="1945" r="2.25" fill="#f000d8"/>
<line x1="283.94" y1="1945" x2="286.94" y2="1945" stroke="#333" stroke-width="0.9"/>
<text x="282.68" y="1949.3" text-anchor="end" font-family='"Liberation Serif", "Times New Roman", serif' font-size="13.4" fill="#000" stroke="#000" stroke-width="0.18">Glutathione metabolism</text>
<circle cx="525.93" cy="1970.83" r="1.85" fill="#e800f0"/>
<line x1="283.94" y1="1970.83" x2="286.94" y2="1970.83" stroke="#333" stroke-width="0.9"/>
<text x="282.68" y="1975.13" text-anchor="end" font-family='"Liberation Serif", "Times New Roman", serif' font-size="13.4" fill="#000" stroke="#000" stroke-width="0.18">Glycerophospholipid metabolism</text>
<circle cx="525.93" cy="1996.66" r="1.7" fill="#e800f0"/>
<line x1="283.94" y1="1996.66" x2="286.94" y2="1996.66" stroke="#333" stroke-width="0.9"/>
<text x="282.68" y="2000.96" text-anchor="end" font-family='"Liberation Serif", "Times New Roman", serif' font-size="13.4" fill="#000" stroke="#000" stroke-width="0.18">Lysine degradation</text>
<circle cx="525.93" cy="2022.49" r="1.7" fill="#e800f0"/>
<line x1="283.94" y1="2022.49" x2="286.94" y2="2022.49" stroke="#333" stroke-width="0.9"/>
<text x="282.68" y="2026.79" text-anchor="end" font-family='"Liberation Serif", "Times New Roman", serif' font-size="13.4" fill="#000" stroke="#000" stroke-width="0.18">Glycolysis / Gluconeogenesis</text>
<rect x="286.94" y="1154.7" width="328.86" height="882.6" fill="none" stroke="#969696" stroke-width="1"/>
<line x1="376.64" y1="2037.3" x2="376.64" y2="2040.5" stroke="#333" stroke-width="0.9"/>
<text transform="translate(376.64 2083.5) rotate(-45)" text-anchor="middle" dy="4.3" font-family='"Liberation Serif", "Times New Roman", serif' font-size="13.4" fill="#000">ILW−H vs. Model</text>
<line x1="525.93" y1="2037.3" x2="525.93" y2="2040.5" stroke="#333" stroke-width="0.9"/>
<text transform="translate(525.93 2083.5) rotate(-45)" text-anchor="middle" dy="4.3" font-family='"Liberation Serif", "Times New Roman", serif' font-size="13.4" fill="#000">Model vs. Control</text>
<text x="628.33" y="1522.7" font-family='"Liberation Serif", "Times New Roman", serif' font-size="13.4" fill="#000">pvalue</text>
<rect x="627.89" y="1528.5" width="13.14" height="65.6" fill="url(#pvg)"/>
<text x="646.09" y="1545.4" font-family='"Liberation Serif", "Times New Roman", serif' font-size="13.4" fill="#000">1e−02</text>
<line x1="627.89" y1="1540.9" x2="630.49" y2="1540.9" stroke="#fff" stroke-width="0.7" stroke-opacity="0.6"/>
<line x1="638.43" y1="1540.9" x2="641.03" y2="1540.9" stroke="#fff" stroke-width="0.7" stroke-opacity="0.6"/>
<text x="646.09" y="1564.7" font-family='"Liberation Serif", "Times New Roman", serif' font-size="13.4" fill="#000">1e−05</text>
<line x1="627.89" y1="1560.2" x2="630.49" y2="1560.2" stroke="#fff" stroke-width="0.7" stroke-opacity="0.6"/>
<line x1="638.43" y1="1560.2" x2="641.03" y2="1560.2" stroke="#fff" stroke-width="0.7" stroke-opacity="0.6"/>
<text x="646.09" y="1583.8" font-family='"Liberation Serif", "Times New Roman", serif' font-size="13.4" fill="#000">1e−08</text>
<line x1="627.89" y1="1579.3" x2="630.49" y2="1579.3" stroke="#fff" stroke-width="0.7" stroke-opacity="0.6"/>
<line x1="638.43" y1="1579.3" x2="641.03" y2="1579.3" stroke="#fff" stroke-width="0.7" stroke-opacity="0.6"/>
<text x="628.33" y="1621.7" font-family='"Liberation Serif", "Times New Roman", serif' font-size="13.4" fill="#000">count</text>
<circle cx="634.55" cy="1634" r="2.55" fill="#000"/>
<text x="645.47" y="1638.3" font-family='"Liberation Serif", "Times New Roman", serif' font-size="13.4" fill="#000">10</text>
<circle cx="634.55" cy="1647.3" r="3.35" fill="#000"/>
<text x="645.47" y="1651.6" font-family='"Liberation Serif", "Times New Roman", serif' font-size="13.4" fill="#000">20</text>
<circle cx="634.55" cy="1660.4" r="3.8" fill="#000"/>
<text x="645.47" y="1664.7" font-family='"Liberation Serif", "Times New Roman", serif' font-size="13.4" fill="#000">30</text>
<circle cx="634.55" cy="1673.6" r="4.4" fill="#000"/>
<text x="645.47" y="1677.9" font-family='"Liberation Serif", "Times New Roman", serif' font-size="13.4" fill="#000">40</text>
</g>
<text transform="translate(902.06 1218) scale(0.9957 1)" font-family='"Liberation Serif", "Times New Roman", serif' font-size="63" font-weight="bold" fill="#000">F</text>
</g>
</svg>
</body></html>
